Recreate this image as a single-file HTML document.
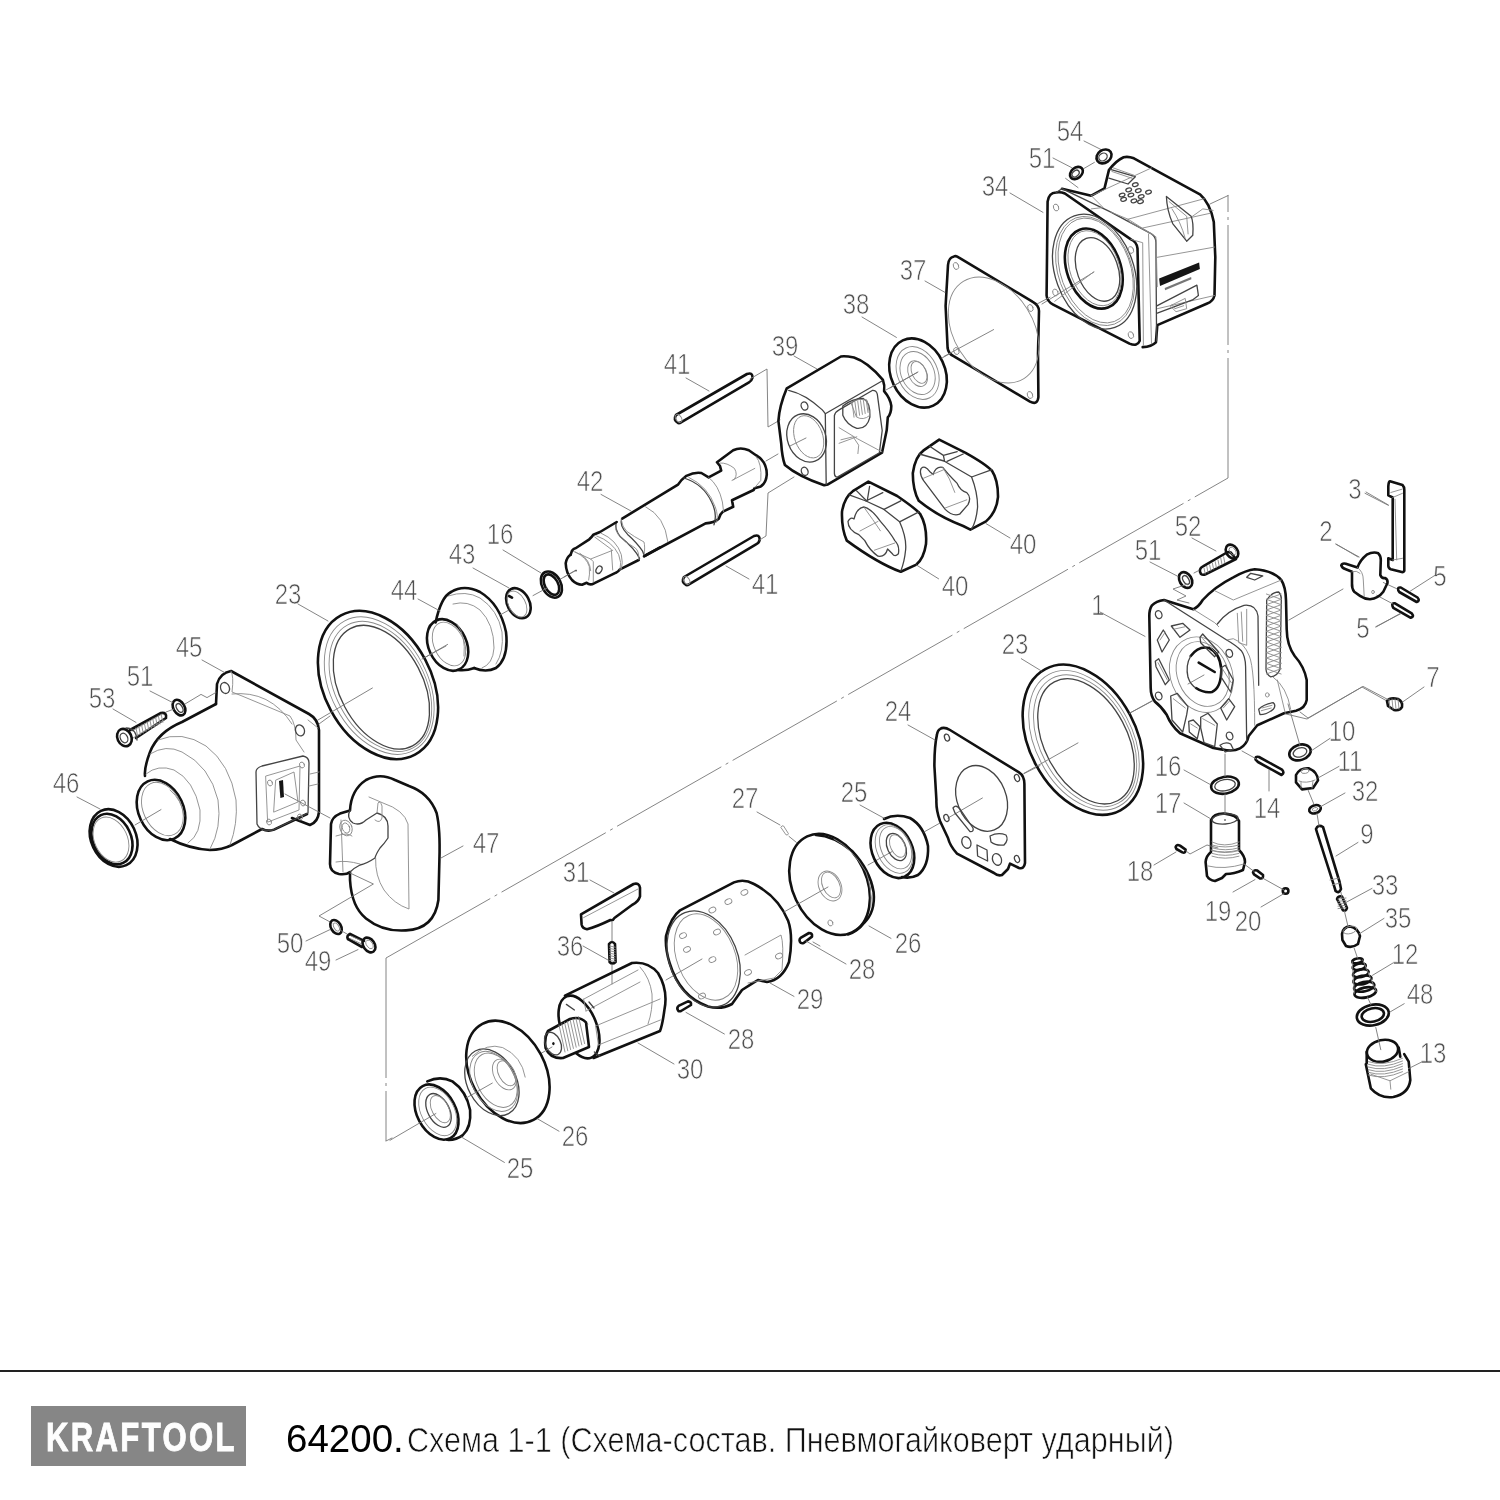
<!DOCTYPE html>
<html><head><meta charset="utf-8"><style>
html,body{margin:0;padding:0;background:#fff;width:1500px;height:1500px;overflow:hidden}
.wrap{position:absolute;left:0;top:0;width:1500px;height:1500px;filter:grayscale(1)}
svg{position:absolute;left:0;top:0}
.lb{font-family:"Liberation Sans",sans-serif;opacity:0.995;fill:#505050;stroke:#fff;stroke-width:0.7px;paint-order:normal}
.bar{position:absolute;left:0;top:1370px;width:1500px;height:1.5px;background:#222}
.logo{position:absolute;left:31px;top:1406px;width:215px;height:60px;background:#868589}
.lg{opacity:0.995;position:absolute;left:46px;top:1417px;font-family:"Liberation Sans",sans-serif;font-weight:bold;font-size:40px;color:#fff;letter-spacing:3px;line-height:40px;transform-origin:0 0;transform:scaleX(0.777);-webkit-text-stroke:0.9px #fff;white-space:nowrap}
.c1{opacity:0.995;position:absolute;left:286px;top:1417px;font-family:"Liberation Sans",sans-serif;font-size:38.5px;line-height:44px;color:#000;white-space:nowrap}
.c2{position:absolute;left:407px;top:1420px;font-family:"Liberation Sans",sans-serif;font-size:35px;line-height:40px;color:#111;white-space:nowrap;transform-origin:0 0;transform:scaleX(0.874);-webkit-text-stroke:0.7px #fff;opacity:0.995}
</style></head><body><div class="wrap">
<svg width="1500" height="1500" viewBox="0 0 1500 1500">
<text transform="translate(1070.0 140.7) scale(0.8 1)" text-anchor="middle" font-size="30" class="lb">54</text>
<text transform="translate(1042.0 167.7) scale(0.8 1)" text-anchor="middle" font-size="30" class="lb">51</text>
<text transform="translate(995.0 195.7) scale(0.8 1)" text-anchor="middle" font-size="30" class="lb">34</text>
<text transform="translate(913.0 279.6) scale(0.8 1)" text-anchor="middle" font-size="30" class="lb">37</text>
<text transform="translate(856.0 313.6) scale(0.8 1)" text-anchor="middle" font-size="30" class="lb">38</text>
<text transform="translate(785.0 355.6) scale(0.8 1)" text-anchor="middle" font-size="30" class="lb">39</text>
<text transform="translate(677.0 373.6) scale(0.8 1)" text-anchor="middle" font-size="30" class="lb">41</text>
<text transform="translate(590.0 490.6) scale(0.8 1)" text-anchor="middle" font-size="30" class="lb">42</text>
<text transform="translate(500.0 543.6) scale(0.8 1)" text-anchor="middle" font-size="30" class="lb">16</text>
<text transform="translate(462.0 563.6) scale(0.8 1)" text-anchor="middle" font-size="30" class="lb">43</text>
<text transform="translate(404.0 599.6) scale(0.8 1)" text-anchor="middle" font-size="30" class="lb">44</text>
<text transform="translate(288.0 603.6) scale(0.8 1)" text-anchor="middle" font-size="30" class="lb">23</text>
<text transform="translate(189.0 656.6) scale(0.8 1)" text-anchor="middle" font-size="30" class="lb">45</text>
<text transform="translate(140.0 685.6) scale(0.8 1)" text-anchor="middle" font-size="30" class="lb">51</text>
<text transform="translate(102.0 707.6) scale(0.8 1)" text-anchor="middle" font-size="30" class="lb">53</text>
<text transform="translate(66.0 792.6) scale(0.8 1)" text-anchor="middle" font-size="30" class="lb">46</text>
<text transform="translate(486.0 852.6) scale(0.8 1)" text-anchor="middle" font-size="30" class="lb">47</text>
<text transform="translate(290.0 952.6) scale(0.8 1)" text-anchor="middle" font-size="30" class="lb">50</text>
<text transform="translate(318.0 970.6) scale(0.8 1)" text-anchor="middle" font-size="30" class="lb">49</text>
<text transform="translate(765.0 593.6) scale(0.8 1)" text-anchor="middle" font-size="30" class="lb">41</text>
<text transform="translate(1023.0 553.6) scale(0.8 1)" text-anchor="middle" font-size="30" class="lb">40</text>
<text transform="translate(955.0 595.6) scale(0.8 1)" text-anchor="middle" font-size="30" class="lb">40</text>
<text transform="translate(1355.0 498.6) scale(0.8 1)" text-anchor="middle" font-size="30" class="lb">3</text>
<text transform="translate(1326.0 540.6) scale(0.8 1)" text-anchor="middle" font-size="30" class="lb">2</text>
<text transform="translate(1188.0 535.6) scale(0.8 1)" text-anchor="middle" font-size="30" class="lb">52</text>
<text transform="translate(1148.0 559.6) scale(0.8 1)" text-anchor="middle" font-size="30" class="lb">51</text>
<text transform="translate(1440.0 585.6) scale(0.8 1)" text-anchor="middle" font-size="30" class="lb">5</text>
<text transform="translate(1363.0 637.6) scale(0.8 1)" text-anchor="middle" font-size="30" class="lb">5</text>
<text transform="translate(1098.0 614.6) scale(0.8 1)" text-anchor="middle" font-size="30" class="lb">1</text>
<text transform="translate(1015.0 653.6) scale(0.8 1)" text-anchor="middle" font-size="30" class="lb">23</text>
<text transform="translate(898.0 720.6) scale(0.8 1)" text-anchor="middle" font-size="30" class="lb">24</text>
<text transform="translate(1433.0 686.6) scale(0.8 1)" text-anchor="middle" font-size="30" class="lb">7</text>
<text transform="translate(1342.0 740.6) scale(0.8 1)" text-anchor="middle" font-size="30" class="lb">10</text>
<text transform="translate(1350.0 770.6) scale(0.8 1)" text-anchor="middle" font-size="30" class="lb">11</text>
<text transform="translate(1168.0 775.6) scale(0.8 1)" text-anchor="middle" font-size="30" class="lb">16</text>
<text transform="translate(1267.0 817.6) scale(0.8 1)" text-anchor="middle" font-size="30" class="lb">14</text>
<text transform="translate(1365.0 800.6) scale(0.8 1)" text-anchor="middle" font-size="30" class="lb">32</text>
<text transform="translate(1168.0 812.6) scale(0.8 1)" text-anchor="middle" font-size="30" class="lb">17</text>
<text transform="translate(745.0 807.6) scale(0.8 1)" text-anchor="middle" font-size="30" class="lb">27</text>
<text transform="translate(854.0 801.6) scale(0.8 1)" text-anchor="middle" font-size="30" class="lb">25</text>
<text transform="translate(1367.0 843.6) scale(0.8 1)" text-anchor="middle" font-size="30" class="lb">9</text>
<text transform="translate(1140.0 880.6) scale(0.8 1)" text-anchor="middle" font-size="30" class="lb">18</text>
<text transform="translate(1385.0 894.6) scale(0.8 1)" text-anchor="middle" font-size="30" class="lb">33</text>
<text transform="translate(1218.0 920.6) scale(0.8 1)" text-anchor="middle" font-size="30" class="lb">19</text>
<text transform="translate(1248.0 930.6) scale(0.8 1)" text-anchor="middle" font-size="30" class="lb">20</text>
<text transform="translate(576.0 881.6) scale(0.8 1)" text-anchor="middle" font-size="30" class="lb">31</text>
<text transform="translate(908.0 952.6) scale(0.8 1)" text-anchor="middle" font-size="30" class="lb">26</text>
<text transform="translate(570.0 955.6) scale(0.8 1)" text-anchor="middle" font-size="30" class="lb">36</text>
<text transform="translate(1398.0 927.6) scale(0.8 1)" text-anchor="middle" font-size="30" class="lb">35</text>
<text transform="translate(862.0 978.6) scale(0.8 1)" text-anchor="middle" font-size="30" class="lb">28</text>
<text transform="translate(1405.0 963.6) scale(0.8 1)" text-anchor="middle" font-size="30" class="lb">12</text>
<text transform="translate(810.0 1008.6) scale(0.8 1)" text-anchor="middle" font-size="30" class="lb">29</text>
<text transform="translate(1420.0 1003.6) scale(0.8 1)" text-anchor="middle" font-size="30" class="lb">48</text>
<text transform="translate(741.0 1048.7) scale(0.8 1)" text-anchor="middle" font-size="30" class="lb">28</text>
<text transform="translate(1433.0 1062.7) scale(0.8 1)" text-anchor="middle" font-size="30" class="lb">13</text>
<text transform="translate(690.0 1078.7) scale(0.8 1)" text-anchor="middle" font-size="30" class="lb">30</text>
<text transform="translate(575.0 1145.7) scale(0.8 1)" text-anchor="middle" font-size="30" class="lb">26</text>
<text transform="translate(520.0 1177.7) scale(0.8 1)" text-anchor="middle" font-size="30" class="lb">25</text>
<path d="M 386.0 958.0 L 1228.0 478.0" stroke="#777" stroke-width="0.9" fill="none" stroke-dasharray="120 5 3 5" />
<path d="M 1228.0 478.0 L 1228.0 195.0" stroke="#777" stroke-width="0.9" fill="none" stroke-dasharray="120 5 3 5" />
<path d="M 386.0 958.0 L 386.0 1141.0" stroke="#777" stroke-width="0.9" fill="none" stroke-dasharray="120 5 3 5" />
<path d="M 386.0 1141.0 L 392.0 1138.0" stroke="#777" stroke-width="0.9" fill="none" stroke-linecap="round" />
<path d="M 1084.0 141.0 L 1102.0 150.0" stroke="#777" stroke-width="0.9" fill="none" stroke-linecap="round" />
<path d="M 1053.0 158.0 L 1071.6 167.6" stroke="#777" stroke-width="0.9" fill="none" stroke-linecap="round" />
<path d="M 1010.0 193.0 L 1043.0 212.4" stroke="#777" stroke-width="0.9" fill="none" stroke-linecap="round" />
<path d="M 1065.6 178.4 L 1078.0 187.6" stroke="#777" stroke-width="0.9" fill="none" stroke-linecap="round" />
<path d="M 1094.4 162.4 L 1082.0 169.6" stroke="#777" stroke-width="0.9" fill="none" stroke-linecap="round" />
<path d="M 1042.0 304.0 L 1094.0 272.0" stroke="#777" stroke-width="0.9" fill="none" stroke-linecap="round" />
<path d="M 1210.0 204.0 L 1228.0 195.6" stroke="#777" stroke-width="0.9" fill="none" stroke-linecap="round" />
<ellipse cx="1104.0" cy="156.4" rx="8.0" ry="6.4" transform="rotate(-35.0 1104.0 156.4)" stroke="#111" stroke-width="2.6" fill="none" stroke-linejoin="round" stroke-linecap="round"/>
<ellipse cx="1103.0" cy="157.0" rx="4.4" ry="3.6" transform="rotate(-35.0 1103.0 157.0)" stroke="#444" stroke-width="1.3" fill="none" stroke-linejoin="round" stroke-linecap="round"/>
<ellipse cx="1076.4" cy="173.0" rx="7.2" ry="5.2" transform="rotate(-40.0 1076.4 173.0)" stroke="#111" stroke-width="2.6" fill="none" stroke-linejoin="round" stroke-linecap="round"/>
<ellipse cx="1075.6" cy="173.6" rx="4.0" ry="2.8" transform="rotate(-40.0 1075.6 173.6)" stroke="#444" stroke-width="1.3" fill="none" stroke-linejoin="round" stroke-linecap="round"/>
<path d="M 1062.0 188.7 L 1091.3 195.7 L 1104.5 188.4 L 1108.9 170.1 Q 1116.3 160.5 1123.6 157.3 Q 1128.0 156.1 1133.9 158.3 L 1199.9 194.3 Q 1210.1 203.1 1213.8 222.1 L 1215.3 257.3 L 1214.5 295.5 Q 1213.1 301.3 1207.2 303.5 L 1157.3 325.1 L 1155.9 342.4 Q 1151.5 346.8 1142.7 347.1" stroke="#111" stroke-width="2.6" fill="none" stroke-linejoin="round" stroke-linecap="round" />
<path d="M 1056.1 192.5 Q 1048.8 192.8 1047.6 201.6 L 1046.6 295.5 Q 1047.0 301.3 1053.2 304.6 L 1129.5 343.6 Q 1137.5 346.8 1139.7 340.9 L 1137.5 248.5 Q 1136.8 241.9 1130.9 239.4 L 1064.9 193.5 Q 1060.5 191.6 1056.1 192.5 Z " stroke="#111" stroke-width="2.6" fill="none" stroke-linejoin="round" stroke-linecap="round" />
<path d="M 1062.0 188.7 L 1110.4 211.9 L 1151.5 233.9 Q 1155.9 236.8 1155.9 242.7 L 1156.6 340.9" stroke="#444" stroke-width="1.3" fill="none" stroke-linejoin="round" stroke-linecap="round" />
<path d="M 1130.9 239.4 L 1142.7 242.7 L 1143.4 345.3" stroke="#8a8a8a" stroke-width="0.9" fill="none" stroke-linejoin="round" stroke-linecap="round" />
<path d="M 1056.1 192.5 L 1062.0 188.7" stroke="#444" stroke-width="1.3" fill="none" stroke-linejoin="round" stroke-linecap="round" />
<path d="M 1110.4 211.9 L 1128.0 219.2 L 1151.5 233.9" stroke="#8a8a8a" stroke-width="0.9" fill="none" stroke-linejoin="round" stroke-linecap="round" />
<path d="M 1091.3 195.7 L 1103.1 207.5 L 1091.3 208.9" stroke="#8a8a8a" stroke-width="0.9" fill="none" stroke-linejoin="round" stroke-linecap="round" />
<ellipse cx="1094.6" cy="271.6" rx="39.2" ry="59.4" transform="rotate(-20.0 1094.6 271.6)" stroke="#444" stroke-width="1.3" fill="none" stroke-linejoin="round" stroke-linecap="round"/>
<ellipse cx="1095.1" cy="271.0" rx="36.7" ry="56.5" transform="rotate(-20.0 1095.1 271.0)" stroke="#8a8a8a" stroke-width="0.9" fill="none" stroke-linejoin="round" stroke-linecap="round"/>
<ellipse cx="1095.7" cy="270.5" rx="34.9" ry="54.3" transform="rotate(-20.0 1095.7 270.5)" stroke="#8a8a8a" stroke-width="0.9" fill="none" stroke-linejoin="round" stroke-linecap="round"/>
<ellipse cx="1093.8" cy="268.6" rx="26.8" ry="41.4" transform="rotate(-20.0 1093.8 268.6)" stroke="#111" stroke-width="2.6" fill="none" stroke-linejoin="round" stroke-linecap="round"/>
<ellipse cx="1094.6" cy="268.2" rx="24.6" ry="38.9" transform="rotate(-20.0 1094.6 268.2)" stroke="#8a8a8a" stroke-width="0.9" fill="none" stroke-linejoin="round" stroke-linecap="round"/>
<ellipse cx="1097.5" cy="269.4" rx="20.4" ry="33.0" transform="rotate(-20.0 1097.5 269.4)" stroke="#444" stroke-width="1.3" fill="none" stroke-linejoin="round" stroke-linecap="round"/>
<path d="M 1054.7 301.3 L 1093.5 272.0" stroke="#8a8a8a" stroke-width="0.9" fill="none" stroke-linejoin="round" stroke-linecap="round" />
<ellipse cx="1056.1" cy="207.5" rx="2.6" ry="3.5" transform="rotate(-20.0 1056.1 207.5)" stroke="#8a8a8a" stroke-width="0.9" fill="none" stroke-linejoin="round" stroke-linecap="round"/>
<ellipse cx="1130.9" cy="250.0" rx="2.6" ry="3.5" transform="rotate(-20.0 1130.9 250.0)" stroke="#8a8a8a" stroke-width="0.9" fill="none" stroke-linejoin="round" stroke-linecap="round"/>
<ellipse cx="1130.9" cy="335.1" rx="2.6" ry="3.5" transform="rotate(-20.0 1130.9 335.1)" stroke="#8a8a8a" stroke-width="0.9" fill="none" stroke-linejoin="round" stroke-linecap="round"/>
<ellipse cx="1055.4" cy="292.5" rx="2.6" ry="3.5" transform="rotate(-20.0 1055.4 292.5)" stroke="#8a8a8a" stroke-width="0.9" fill="none" stroke-linejoin="round" stroke-linecap="round"/>
<path d="M 1110.4 169.3 L 1135.3 176.7 L 1128.0 184.0 L 1108.9 178.1" stroke="#444" stroke-width="1.3" fill="none" stroke-linejoin="round" stroke-linecap="round" />
<path d="M 1113.3 167.9 L 1133.9 175.2 M 1111.9 171.5 L 1132.4 178.4" stroke="#8a8a8a" stroke-width="0.9" fill="none" stroke-linejoin="round" stroke-linecap="round" />
<ellipse cx="1122.1" cy="195.0" rx="2.9" ry="1.8" transform="rotate(-15.0 1122.1 195.0)" stroke="#444" stroke-width="1.3" fill="none" stroke-linejoin="round" stroke-linecap="round"/>
<ellipse cx="1128.7" cy="189.9" rx="2.9" ry="1.8" transform="rotate(-15.0 1128.7 189.9)" stroke="#444" stroke-width="1.3" fill="none" stroke-linejoin="round" stroke-linecap="round"/>
<ellipse cx="1135.3" cy="184.7" rx="2.9" ry="1.8" transform="rotate(-15.0 1135.3 184.7)" stroke="#444" stroke-width="1.3" fill="none" stroke-linejoin="round" stroke-linecap="round"/>
<ellipse cx="1123.6" cy="199.4" rx="2.9" ry="1.8" transform="rotate(-15.0 1123.6 199.4)" stroke="#444" stroke-width="1.3" fill="none" stroke-linejoin="round" stroke-linecap="round"/>
<ellipse cx="1130.9" cy="195.0" rx="2.9" ry="1.8" transform="rotate(-15.0 1130.9 195.0)" stroke="#444" stroke-width="1.3" fill="none" stroke-linejoin="round" stroke-linecap="round"/>
<ellipse cx="1138.3" cy="190.6" rx="2.9" ry="1.8" transform="rotate(-15.0 1138.3 190.6)" stroke="#444" stroke-width="1.3" fill="none" stroke-linejoin="round" stroke-linecap="round"/>
<ellipse cx="1133.9" cy="200.9" rx="2.9" ry="1.8" transform="rotate(-15.0 1133.9 200.9)" stroke="#444" stroke-width="1.3" fill="none" stroke-linejoin="round" stroke-linecap="round"/>
<ellipse cx="1141.2" cy="196.5" rx="2.9" ry="1.8" transform="rotate(-15.0 1141.2 196.5)" stroke="#444" stroke-width="1.3" fill="none" stroke-linejoin="round" stroke-linecap="round"/>
<ellipse cx="1148.5" cy="192.1" rx="2.9" ry="1.8" transform="rotate(-15.0 1148.5 192.1)" stroke="#444" stroke-width="1.3" fill="none" stroke-linejoin="round" stroke-linecap="round"/>
<ellipse cx="1140.5" cy="201.6" rx="2.9" ry="1.8" transform="rotate(-15.0 1140.5 201.6)" stroke="#444" stroke-width="1.3" fill="none" stroke-linejoin="round" stroke-linecap="round"/>
<path d="M 1091.3 195.7 L 1151.5 167.9" stroke="#8a8a8a" stroke-width="0.9" fill="none" stroke-linejoin="round" stroke-linecap="round" />
<path d="M 1128.0 219.2 L 1204.3 198.7" stroke="#8a8a8a" stroke-width="0.9" fill="none" stroke-linejoin="round" stroke-linecap="round" />
<path d="M 1142.7 228.0 L 1210.1 213.3" stroke="#8a8a8a" stroke-width="0.9" fill="none" stroke-linejoin="round" stroke-linecap="round" />
<path d="M 1157.3 257.3 L 1214.5 247.1" stroke="#8a8a8a" stroke-width="0.9" fill="none" stroke-linejoin="round" stroke-linecap="round" />
<path d="M 1157.3 308.7 L 1214.5 295.5" stroke="#8a8a8a" stroke-width="0.9" fill="none" stroke-linejoin="round" stroke-linecap="round" />
<path d="M 1148.5 233.9 L 1151.5 343.9" stroke="#8a8a8a" stroke-width="0.9" fill="none" stroke-linejoin="round" stroke-linecap="round" />
<path d="M 1166.4 196.5 L 1191.1 216.3 Q 1193.7 222.1 1192.8 235.3 L 1186.7 241.2 L 1172.7 223.6 Q 1166.9 210.4 1166.4 196.5 Z " stroke="#444" stroke-width="1.3" fill="none" stroke-linejoin="round" stroke-linecap="round" />
<path d="M 1169.1 201.6 L 1186.7 216.3 L 1188.1 233.9 M 1172.0 208.9 Q 1180.8 222.1 1185.2 238.3" stroke="#8a8a8a" stroke-width="0.9" fill="none" stroke-linejoin="round" stroke-linecap="round" />
<path d="M 1192.5 216.3 L 1202.8 208.9 L 1213.1 210.4" stroke="#8a8a8a" stroke-width="0.9" fill="none" stroke-linejoin="round" stroke-linecap="round" />
<path d="M 1159.1 278.6 L 1199.1 262.5 L 1199.9 269.1 L 1160.0 285.9 Z " stroke="none" fill="#151515" />
<path d="M 1164.7 288.1 L 1191.1 277.1 L 1191.4 279.3 L 1165.1 290.3 Z " stroke="none" fill="#777" />
<path d="M 1157.3 305.7 L 1196.9 285.2 L 1198.4 295.5 L 1192.5 299.9 L 1157.3 313.1" stroke="#444" stroke-width="1.3" fill="none" stroke-linejoin="round" stroke-linecap="round" />
<path d="M 1170.5 305.7 L 1185.2 298.4 L 1186.7 308.7 L 1176.4 311.6 Z " stroke="#8a8a8a" stroke-width="0.9" fill="none" stroke-linejoin="round" stroke-linecap="round" />
<path d="M 1172.0 304.3 L 1174.9 308.7 L 1183.7 305.7" stroke="#8a8a8a" stroke-width="0.9" fill="none" stroke-linejoin="round" stroke-linecap="round" />
<path d="M 1151.5 233.9 L 1155.9 236.8 L 1157.3 286.7" stroke="#8a8a8a" stroke-width="0.9" fill="none" stroke-linejoin="round" stroke-linecap="round" />
<path d="M 1128.0 219.9 L 1129.5 222.1 L 1151.5 233.9" stroke="#8a8a8a" stroke-width="0.9" fill="none" stroke-linejoin="round" stroke-linecap="round" />
<path d="M 954.0 256.4 Q 948.4 257.6 948.0 265.0 L 945.6 306.0 L 947.6 348.0 Q 948.4 354.0 954.0 356.4 L 1030.0 401.6 Q 1037.6 405.6 1038.4 397.0 L 1038.0 354.0 L 1039.0 311.0 Q 1038.8 305.0 1032.4 301.6 L 959.0 257.6 Q 956.0 255.6 954.0 256.4 Z " stroke="#111" stroke-width="2.6" fill="none" stroke-linejoin="round" stroke-linecap="round" />
<ellipse cx="993.6" cy="330.0" rx="39.6" ry="57.2" transform="rotate(-32.0 993.6 330.0)" stroke="#8a8a8a" stroke-width="0.9" fill="none" stroke-linejoin="round" stroke-linecap="round"/>
<ellipse cx="956.0" cy="266.0" rx="2.6" ry="3.6" transform="rotate(-20.0 956.0 266.0)" stroke="#8a8a8a" stroke-width="0.9" fill="none" stroke-linejoin="round" stroke-linecap="round"/>
<ellipse cx="1030.4" cy="308.0" rx="2.6" ry="3.6" transform="rotate(-20.0 1030.4 308.0)" stroke="#8a8a8a" stroke-width="0.9" fill="none" stroke-linejoin="round" stroke-linecap="round"/>
<ellipse cx="1030.0" cy="395.0" rx="2.6" ry="3.6" transform="rotate(-20.0 1030.0 395.0)" stroke="#8a8a8a" stroke-width="0.9" fill="none" stroke-linejoin="round" stroke-linecap="round"/>
<ellipse cx="956.4" cy="351.0" rx="2.6" ry="3.6" transform="rotate(-20.0 956.4 351.0)" stroke="#8a8a8a" stroke-width="0.9" fill="none" stroke-linejoin="round" stroke-linecap="round"/>
<path d="M 925.0 281.0 L 945.0 292.4" stroke="#777" stroke-width="0.9" fill="none" stroke-linecap="round" />
<path d="M 944.0 356.4 L 993.6 329.6" stroke="#777" stroke-width="0.9" fill="none" stroke-linecap="round" />
<path d="M 1037.0 304.0 L 1050.0 297.2" stroke="#777" stroke-width="0.9" fill="none" stroke-linecap="round" />
<ellipse cx="918.0" cy="373.0" rx="27.0" ry="36.0" transform="rotate(-25.0 918.0 373.0)" stroke="#111" stroke-width="2.6" fill="none" stroke-linejoin="round" stroke-linecap="round"/>
<ellipse cx="917.6" cy="373.0" rx="20.0" ry="27.6" transform="rotate(-25.0 917.6 373.0)" stroke="#8a8a8a" stroke-width="0.9" fill="none" stroke-linejoin="round" stroke-linecap="round"/>
<ellipse cx="917.6" cy="373.0" rx="16.4" ry="22.4" transform="rotate(-25.0 917.6 373.0)" stroke="#8a8a8a" stroke-width="0.9" fill="none" stroke-linejoin="round" stroke-linecap="round"/>
<ellipse cx="917.6" cy="373.6" rx="9.0" ry="13.6" transform="rotate(-25.0 917.6 373.6)" stroke="#8a8a8a" stroke-width="0.9" fill="none" stroke-linejoin="round" stroke-linecap="round"/>
<ellipse cx="919.0" cy="372.4" rx="7.0" ry="11.6" transform="rotate(-25.0 919.0 372.4)" stroke="#8a8a8a" stroke-width="0.9" fill="none" stroke-linejoin="round" stroke-linecap="round"/>
<path d="M 862.0 317.0 L 896.4 337.4" stroke="#777" stroke-width="0.9" fill="none" stroke-linecap="round" />
<path d="M 886.0 390.0 L 917.2 372.4" stroke="#777" stroke-width="0.9" fill="none" stroke-linecap="round" />
<path d="M 942.0 358.0 L 950.0 353.6" stroke="#777" stroke-width="0.9" fill="none" stroke-linecap="round" />
<path d="M 678.0 423.0 Q 673.0 420.0 676.0 415.0 L 747.0 374.0 Q 753.0 372.0 752.4 378.0 Q 751.6 381.0 749.0 382.4 L 681.0 422.4 Q 679.6 423.4 678.0 423.0 Z " stroke="#111" stroke-width="2.6" fill="none" stroke-linejoin="round" stroke-linecap="round" />
<ellipse cx="678.6" cy="418.4" rx="2.8" ry="4.4" transform="rotate(-30.0 678.6 418.4)" stroke="#8a8a8a" stroke-width="0.9" fill="none" stroke-linejoin="round" stroke-linecap="round"/>
<path d="M 686.0 378.0 L 709.0 391.0" stroke="#777" stroke-width="0.9" fill="none" stroke-linecap="round" />
<path d="M 686.0 585.0 Q 681.0 582.0 684.0 577.0 L 754.0 536.0 Q 760.0 534.0 759.6 540.0 Q 759.0 543.0 756.0 544.4 L 689.0 584.4 Q 687.6 585.4 686.0 585.0 Z " stroke="#111" stroke-width="2.6" fill="none" stroke-linejoin="round" stroke-linecap="round" />
<ellipse cx="686.6" cy="580.4" rx="2.8" ry="4.4" transform="rotate(-30.0 686.6 580.4)" stroke="#8a8a8a" stroke-width="0.9" fill="none" stroke-linejoin="round" stroke-linecap="round"/>
<path d="M 726.0 566.0 L 749.0 579.0" stroke="#777" stroke-width="0.9" fill="none" stroke-linecap="round" />
<path d="M 750.0 379.0 L 767.0 369.0 L 768.0 427.0 L 780.0 420.0" stroke="#777" stroke-width="0.9" fill="none" stroke-linecap="round" />
<path d="M 794.0 477.0 L 768.0 493.0 L 766.0 536.0 L 759.6 540.0" stroke="#777" stroke-width="0.9" fill="none" stroke-linecap="round" />
<path d="M 766.0 461.0 L 778.0 454.0" stroke="#777" stroke-width="0.9" fill="none" stroke-linecap="round" />
<path d="M 790.0 446.0 L 806.0 438.0" stroke="#777" stroke-width="0.9" fill="none" stroke-linecap="round" />
<path d="M 890.0 388.0 L 918.0 372.0" stroke="#777" stroke-width="0.9" fill="none" stroke-linecap="round" />
<path d="M 794.0 356.0 L 817.0 369.0" stroke="#777" stroke-width="0.9" fill="none" stroke-linecap="round" />
<path d="M 786.8 388.3 L 840.9 356.5 Q 844.7 355.6 854.0 357.5 Q 868.0 362.1 882.9 379.9 Q 885.0 385.5 884.1 391.1 Q 890.4 398.5 891.3 406.0 Q 891.3 413.5 887.8 417.4 L 886.7 430.3 L 882.0 452.7 L 827.9 484.4 L 824.1 485.3 Q 798.0 476.2 784.9 465.0 Q 782.1 457.3 781.2 443.3 L 778.4 420.9 Q 779.3 406.0 786.8 388.3 Z " stroke="#111" stroke-width="2.6" fill="none" stroke-linejoin="round" stroke-linecap="round" />
<path d="M 788.7 390.3 Q 805.5 394.1 822.3 409.9 L 825.3 413.7 L 826.2 484.4" stroke="#444" stroke-width="1.3" fill="none" stroke-linejoin="round" stroke-linecap="round" />
<path d="M 825.3 413.7 L 882.0 381.0" stroke="#444" stroke-width="1.3" fill="none" stroke-linejoin="round" stroke-linecap="round" />
<ellipse cx="806.6" cy="437.9" rx="19.1" ry="24.7" transform="rotate(-20.0 806.6 437.9)" stroke="#444" stroke-width="1.3" fill="none" stroke-linejoin="round" stroke-linecap="round"/>
<ellipse cx="808.7" cy="436.8" rx="14.0" ry="21.9" transform="rotate(-20.0 808.7 436.8)" stroke="#8a8a8a" stroke-width="0.9" fill="none" stroke-linejoin="round" stroke-linecap="round"/>
<ellipse cx="804.5" cy="406.0" rx="3.3" ry="4.2" transform="rotate(-20.0 804.5 406.0)" stroke="#444" stroke-width="1.3" fill="none" stroke-linejoin="round" stroke-linecap="round"/>
<ellipse cx="804.7" cy="471.3" rx="3.3" ry="4.2" transform="rotate(-20.0 804.7 471.3)" stroke="#444" stroke-width="1.3" fill="none" stroke-linejoin="round" stroke-linecap="round"/>
<path d="M 834.4 415.5 Q 835.3 411.8 839.1 409.9 L 872.7 390.3 Q 876.4 390.3 877.3 394.1 L 882.2 430.5 L 879.4 452.7 L 837.4 477.1 Q 834.6 477.1 834.4 473.4 Z " stroke="#444" stroke-width="1.3" fill="none" stroke-linejoin="round" stroke-linecap="round" />
<path d="M 839.1 427.7 L 857.7 438.9 L 882.0 451.9 M 840.9 439.8 L 853.1 436.8 L 858.7 445.2 L 857.9 453.6 M 839.1 443.3 L 856.8 436.8" stroke="#8a8a8a" stroke-width="0.9" fill="none" stroke-linejoin="round" stroke-linecap="round" />
<path d="M 842.8 406.0 Q 852.1 398.5 863.3 398.5 Q 870.8 402.3 869.9 417.2 Q 867.1 429.3 856.8 428.4 Q 846.5 424.7 842.8 415.3 Z " stroke="#444" stroke-width="1.3" fill="none" stroke-linejoin="round" stroke-linecap="round" />
<path d="M 851.2 402.3 Q 859.6 397.6 867.1 400.4 L 869.9 415.3 Q 863.3 420.9 856.8 417.2 Z " stroke="#8a8a8a" stroke-width="0.9" fill="none" stroke-linejoin="round" stroke-linecap="round" />
<path d="M 852.1 402.3 L 854.0 417.2" stroke="#8a8a8a" stroke-width="0.9" fill="none" stroke-linejoin="round" stroke-linecap="round" />
<path d="M 854.9 401.7 L 856.8 416.3" stroke="#8a8a8a" stroke-width="0.9" fill="none" stroke-linejoin="round" stroke-linecap="round" />
<path d="M 857.7 401.1 L 859.6 415.3" stroke="#8a8a8a" stroke-width="0.9" fill="none" stroke-linejoin="round" stroke-linecap="round" />
<path d="M 860.5 400.6 L 862.4 414.4" stroke="#8a8a8a" stroke-width="0.9" fill="none" stroke-linejoin="round" stroke-linecap="round" />
<path d="M 863.3 400.0 L 865.2 413.5" stroke="#8a8a8a" stroke-width="0.9" fill="none" stroke-linejoin="round" stroke-linecap="round" />
<path d="M 866.1 399.5 L 868.0 412.5" stroke="#8a8a8a" stroke-width="0.9" fill="none" stroke-linejoin="round" stroke-linecap="round" />
<path d="M 939.2 439.6 L 965.6 452.8 Q 986.0 464.2 992.0 470.8 Q 998.2 480.4 998.0 497.2 Q 996.8 511.6 986.0 521.4 L 970.4 529.6 L 963.2 526.0 Q 938.0 516.4 918.8 500.8 Q 912.8 490.0 912.8 473.2 Q 915.2 456.4 923.6 450.4 Z " stroke="#111" stroke-width="2.6" fill="none" stroke-linejoin="round" stroke-linecap="round" />
<path d="M 919.4 454.0 L 944.0 461.0 L 971.6 477.0 L 992.0 469.6" stroke="#444" stroke-width="1.3" fill="none" stroke-linejoin="round" stroke-linecap="round" />
<path d="M 929.6 446.2 L 943.4 455.4 L 944.6 461.4 M 943.4 455.4 L 957.2 451.6 M 947.0 461.4 L 963.2 454.0 M 971.6 477.0 Q 977.6 492.4 977.6 506.8 Q 976.4 521.2 971.6 529.0" stroke="#444" stroke-width="1.3" fill="none" stroke-linejoin="round" stroke-linecap="round" />
<path d="M 921.2 468.4 Q 924.8 464.8 929.6 471.4 L 933.2 474.6 Q 935.6 466.0 942.8 467.4 Q 947.0 473.2 957.2 483.4 Q 960.2 490.6 966.8 492.6 Q 971.8 497.4 968.0 504.6 L 959.6 514.2 Q 952.4 516.6 945.2 509.4 L 923.6 480.6 Q 918.8 473.2 921.2 468.4 Z " stroke="#444" stroke-width="1.3" fill="none" stroke-linejoin="round" stroke-linecap="round" />
<path d="M 923.6 478.2 L 944.0 469.6 M 945.2 508.0 L 966.8 499.8 M 942.8 467.4 Q 950.0 478.0 954.8 492.4" stroke="#8a8a8a" stroke-width="0.9" fill="none" stroke-linejoin="round" stroke-linecap="round" />
<path d="M 868.4 481.6 L 897.2 496.0 Q 916.4 509.2 920.2 514.0 Q 927.2 526.0 926.0 544.0 Q 923.8 558.4 916.4 564.6 L 900.8 571.8 Q 878.0 563.4 846.8 540.6 Q 841.4 528.4 842.0 511.6 Q 844.4 497.2 852.8 491.2 Z " stroke="#111" stroke-width="2.6" fill="none" stroke-linejoin="round" stroke-linecap="round" />
<path d="M 849.2 494.8 L 866.0 501.0 L 884.0 509.4 L 899.6 521.8 L 919.4 511.6" stroke="#444" stroke-width="1.3" fill="none" stroke-linejoin="round" stroke-linecap="round" />
<path d="M 856.4 490.6 L 866.0 500.2 M 869.6 486.4 L 867.2 501.0 M 866.0 501.0 L 882.8 492.6 M 884.0 509.4 L 900.8 500.8 M 899.6 521.8 Q 906.8 538.0 905.6 550.0 Q 904.4 562.0 900.8 571.0" stroke="#444" stroke-width="1.3" fill="none" stroke-linejoin="round" stroke-linecap="round" />
<path d="M 848.0 521.4 Q 850.4 516.6 854.0 519.0 Q 856.6 508.2 863.8 507.0 Q 871.0 508.2 880.4 521.4 Q 890.0 532.2 894.8 540.6 Q 899.8 545.4 898.4 553.8 Q 894.8 557.4 892.4 553.8 L 887.6 549.0 Q 885.2 557.4 878.0 556.2 Q 869.6 550.2 864.8 540.6 L 858.8 534.6 Q 848.0 529.8 848.0 521.4 Z " stroke="#444" stroke-width="1.3" fill="none" stroke-linejoin="round" stroke-linecap="round" />
<path d="M 860.0 531.0 L 878.0 521.4 M 874.4 550.2 L 894.8 543.0 M 863.8 507.0 Q 873.2 520.0 880.4 530.8" stroke="#8a8a8a" stroke-width="0.9" fill="none" stroke-linejoin="round" stroke-linecap="round" />
<path d="M 986.0 523.6 L 1010.0 538.0" stroke="#777" stroke-width="0.9" fill="none" stroke-linecap="round" />
<path d="M 916.4 565.0 L 938.6 578.8" stroke="#777" stroke-width="0.9" fill="none" stroke-linecap="round" />
<ellipse cx="551.4" cy="584.6" rx="9.4" ry="14.0" transform="rotate(-28.0 551.4 584.6)" stroke="#111" stroke-width="2.6" fill="none" stroke-linejoin="round" stroke-linecap="round"/>
<ellipse cx="551.4" cy="584.6" rx="6.6" ry="11.0" transform="rotate(-28.0 551.4 584.6)" stroke="#111" stroke-width="2.6" fill="none" stroke-linejoin="round" stroke-linecap="round"/>
<path d="M 503.0 550.0 L 541.0 573.0" stroke="#777" stroke-width="0.9" fill="none" stroke-linecap="round" />
<ellipse cx="518.4" cy="603.2" rx="11.0" ry="16.0" transform="rotate(-28.0 518.4 603.2)" stroke="#111" stroke-width="2.6" fill="none" stroke-linejoin="round" stroke-linecap="round"/>
<ellipse cx="517.0" cy="604.0" rx="8.4" ry="14.0" transform="rotate(-28.0 517.0 604.0)" stroke="#8a8a8a" stroke-width="0.9" fill="none" stroke-linejoin="round" stroke-linecap="round"/>
<path d="M 509.0 596.0 L 512.0 597.6" stroke="#111" stroke-width="2.6" fill="none" stroke-linejoin="round" stroke-linecap="round" />
<path d="M 473.0 568.0 L 509.0 588.0" stroke="#777" stroke-width="0.9" fill="none" stroke-linecap="round" />
<path d="M 451.0 592.0 Q 464.0 584.0 480.0 592.0 Q 500.0 604.0 506.0 632.0 Q 509.0 658.0 496.0 668.0 Q 486.0 673.0 474.0 668.0" stroke="#111" stroke-width="2.6" fill="none" stroke-linejoin="round" stroke-linecap="round" />
<path d="M 448.0 596.0 Q 466.0 590.0 480.0 598.0 Q 498.0 610.0 502.0 632.0 Q 504.0 652.0 496.0 664.0" stroke="#8a8a8a" stroke-width="0.9" fill="none" stroke-linejoin="round" stroke-linecap="round" />
<path d="M 451.0 592.0 Q 441.0 597.0 435.6 622.4" stroke="#111" stroke-width="2.6" fill="none" stroke-linejoin="round" stroke-linecap="round" />
<path d="M 458.0 670.0 Q 466.0 671.0 474.4 668.0" stroke="#111" stroke-width="2.6" fill="none" stroke-linejoin="round" stroke-linecap="round" />
<path d="M 453.0 604.0 Q 468.0 600.0 480.0 610.0 Q 494.0 624.0 494.0 648.0 Q 493.0 664.0 482.0 668.0" stroke="#8a8a8a" stroke-width="0.9" fill="none" stroke-linejoin="round" stroke-linecap="round" />
<ellipse cx="447.6" cy="645.0" rx="19.0" ry="27.0" transform="rotate(-25.0 447.6 645.0)" stroke="#111" stroke-width="2.6" fill="none" stroke-linejoin="round" stroke-linecap="round"/>
<ellipse cx="449.0" cy="644.0" rx="15.0" ry="23.0" transform="rotate(-25.0 449.0 644.0)" stroke="#8a8a8a" stroke-width="0.9" fill="none" stroke-linejoin="round" stroke-linecap="round"/>
<path d="M 457.0 624.0 Q 466.0 636.0 464.0 656.0" stroke="#8a8a8a" stroke-width="0.9" fill="none" stroke-linejoin="round" stroke-linecap="round" />
<path d="M 418.0 599.0 L 440.0 611.0" stroke="#777" stroke-width="0.9" fill="none" stroke-linecap="round" />
<path d="M 424.0 658.0 L 447.6 644.4" stroke="#777" stroke-width="0.9" fill="none" stroke-linecap="round" />
<path d="M 500.0 615.0 L 509.0 610.0" stroke="#777" stroke-width="0.9" fill="none" stroke-linecap="round" />
<path d="M 533.0 595.6 L 547.0 588.0" stroke="#777" stroke-width="0.9" fill="none" stroke-linecap="round" />
<path d="M 564.0 577.0 L 576.0 570.0" stroke="#777" stroke-width="0.9" fill="none" stroke-linecap="round" />
<path d="M 601.0 494.4 L 631.0 511.0" stroke="#777" stroke-width="0.9" fill="none" stroke-linecap="round" />
<path d="M 622.2 518.6 L 678.0 484.6 Q 680.6 480.2 686.4 475.8 Q 694.8 471.8 701.4 473.0 L 708.6 477.4 L 721.2 470.6 L 720.0 466.0 L 717.0 462.2 L 733.2 450.2 Q 740.4 446.8 748.8 450.2 L 756.0 455.2 Q 766.8 461.4 766.8 474.4 Q 766.2 482.8 760.8 486.4 L 754.6 488.2 L 753.6 490.0 L 732.0 500.2 L 733.2 506.8 L 723.0 511.6 Q 720.0 514.0 718.8 518.8 Q 714.0 523.0 705.6 523.4 L 644.4 556.0" stroke="#111" stroke-width="2.6" fill="none" stroke-linejoin="round" stroke-linecap="round" />
<path d="M 621.6 518.8 Q 619.2 526.0 627.6 534.4 Q 637.2 542.8 642.6 551.2 L 644.4 556.0" stroke="#444" stroke-width="1.3" fill="none" stroke-linejoin="round" stroke-linecap="round" />
<path d="M 616.2 522.4 Q 614.4 529.6 620.4 536.8 Q 634.8 548.8 639.6 558.4" stroke="#444" stroke-width="1.3" fill="none" stroke-linejoin="round" stroke-linecap="round" />
<path d="M 645.6 506.8 Q 664.8 516.4 667.8 541.6" stroke="#8a8a8a" stroke-width="0.9" fill="none" stroke-linejoin="round" stroke-linecap="round" />
<path d="M 684.0 478.0 Q 703.2 484.0 711.6 502.0 Q 717.6 514.0 714.0 524.8" stroke="#444" stroke-width="1.3" fill="none" stroke-linejoin="round" stroke-linecap="round" />
<path d="M 688.8 477.4 Q 708.0 486.4 715.2 506.8 Q 718.8 516.4 716.4 522.4" stroke="#8a8a8a" stroke-width="0.9" fill="none" stroke-linejoin="round" stroke-linecap="round" />
<path d="M 708.6 477.4 Q 718.8 485.2 722.4 502.0 L 723.6 511.6" stroke="#8a8a8a" stroke-width="0.9" fill="none" stroke-linejoin="round" stroke-linecap="round" />
<path d="M 720.0 463.0 Q 727.2 462.6 734.4 468.4 Q 738.0 474.4 734.4 479.2 L 732.0 480.4" stroke="#8a8a8a" stroke-width="0.9" fill="none" stroke-linejoin="round" stroke-linecap="round" />
<path d="M 733.2 479.8 L 754.8 468.4 M 756.0 456.4 Q 762.0 463.6 760.8 480.4 L 754.8 487.6" stroke="#8a8a8a" stroke-width="0.9" fill="none" stroke-linejoin="round" stroke-linecap="round" />
<path d="M 570.7 554.7 Q 566.7 557.3 565.7 563.3 Q 566.0 573.3 572.0 580.0 Q 576.7 584.7 582.0 584.7 L 586.7 582.7 L 588.7 584.1 Q 591.3 585.0 594.0 583.3 L 616.0 572.7 Q 618.0 572.0 620.0 569.3 L 638.7 560.0" stroke="#111" stroke-width="2.6" fill="none" stroke-linejoin="round" stroke-linecap="round" />
<path d="M 570.7 554.7 L 572.0 550.7 Q 573.3 548.7 576.0 548.0 L 589.3 539.3 Q 592.0 536.7 593.3 534.7 L 600.0 532.0 L 616.7 522.0" stroke="#111" stroke-width="2.6" fill="none" stroke-linejoin="round" stroke-linecap="round" />
<path d="M 616.0 525.3 Q 614.7 530.0 618.7 535.3 Q 624.0 542.0 635.3 548.0 Q 639.3 551.3 638.7 559.3" stroke="#8a8a8a" stroke-width="0.9" fill="none" stroke-linejoin="round" stroke-linecap="round" />
<path d="M 621.3 520.0 Q 622.0 526.7 626.7 531.3 Q 634.0 536.7 644.0 542.0 Q 645.3 546.7 644.0 556.0" stroke="#8a8a8a" stroke-width="0.9" fill="none" stroke-linejoin="round" stroke-linecap="round" />
<path d="M 644.0 556.3 L 660.0 547.3" stroke="#111" stroke-width="2.6" fill="none" stroke-linejoin="round" stroke-linecap="round" />
<path d="M 573.3 551.3 L 590.7 559.0 L 593.3 561.7 L 593.3 582.0 M 590.7 559.0 L 612.7 550.3 M 594.7 537.0 L 611.3 549.3 L 612.7 570.0" stroke="#8a8a8a" stroke-width="0.9" fill="none" stroke-linejoin="round" stroke-linecap="round" />
<path d="M 596.7 536.0 Q 612.0 541.3 618.7 554.7 Q 622.0 562.7 620.0 570.0" stroke="#8a8a8a" stroke-width="0.9" fill="none" stroke-linejoin="round" stroke-linecap="round" />
<path d="M 601.3 533.3 Q 616.7 540.0 621.3 554.7 Q 623.3 562.7 621.3 569.3" stroke="#8a8a8a" stroke-width="0.9" fill="none" stroke-linejoin="round" stroke-linecap="round" />
<path d="M 575.3 552.0 Q 586.7 557.3 589.3 566.7 Q 590.0 574.7 588.7 580.0 M 580.0 553.3 Q 590.0 560.0 590.7 570.7" stroke="#8a8a8a" stroke-width="0.9" fill="none" stroke-linejoin="round" stroke-linecap="round" />
<ellipse cx="599.0" cy="569.7" rx="2.7" ry="3.9" transform="rotate(30.0 599.0 569.7)" stroke="#444" stroke-width="1.3" fill="none" stroke-linejoin="round" stroke-linecap="round"/>
<ellipse cx="576.0" cy="570.7" rx="0.8" ry="0.8" transform="rotate(0.0 576.0 570.7)" stroke="none" fill="#151515"/>
<path d="M 560.0 579.3 L 575.3 570.8" stroke="#777" stroke-width="0.9" fill="none" stroke-linecap="round" />
<path d="M 216.0 704.0 L 217.0 684.0 Q 220.0 673.0 231.0 671.0 L 309.0 714.0 Q 318.0 719.0 319.0 730.0 L 319.0 812.0 Q 318.0 822.0 310.0 825.0 L 292.0 818.0" stroke="#111" stroke-width="2.6" fill="none" stroke-linejoin="round" stroke-linecap="round" />
<path d="M 216.0 704.0 L 182.0 722.0 Q 158.0 732.0 150.0 752.0 Q 144.0 768.0 145.0 776.0" stroke="#111" stroke-width="2.6" fill="none" stroke-linejoin="round" stroke-linecap="round" />
<path d="M 170.0 839.0 Q 190.0 849.0 210.0 850.0 Q 222.0 850.0 232.0 845.0 L 262.0 829.0 Q 268.0 832.0 274.0 829.6 L 307.0 814.0" stroke="#111" stroke-width="2.6" fill="none" stroke-linejoin="round" stroke-linecap="round" />
<path d="M 256.0 772.0 Q 256.0 768.0 262.0 766.0 L 303.0 756.0 Q 309.0 757.0 309.0 763.0 L 308.0 813.0 L 273.0 830.0 Q 260.0 832.0 257.0 824.0 Z " stroke="#444" stroke-width="1.3" fill="none" stroke-linejoin="round" stroke-linecap="round" />
<path d="M 266.0 776.0 L 300.0 766.0 L 299.0 810.0 L 268.0 822.0 Z " stroke="#8a8a8a" stroke-width="0.9" fill="none" stroke-linejoin="round" stroke-linecap="round" />
<path d="M 276.0 780.0 L 294.0 772.0 L 298.0 802.0 L 274.0 812.0 Z " stroke="#8a8a8a" stroke-width="0.9" fill="none" stroke-linejoin="round" stroke-linecap="round" />
<path d="M 231.0 671.0 Q 234.0 676.0 232.0 692.0 L 242.0 696.0 L 290.0 716.0 Q 296.0 724.0 296.0 740.0 L 304.0 752.0" stroke="#8a8a8a" stroke-width="0.9" fill="none" stroke-linejoin="round" stroke-linecap="round" />
<path d="M 232.0 694.0 Q 270.0 690.0 292.0 724.0" stroke="#8a8a8a" stroke-width="0.9" fill="none" stroke-linejoin="round" stroke-linecap="round" />
<path d="M 308.0 720.0 L 318.0 728.0 M 310.0 774.0 L 319.0 772.0 M 309.0 786.0 L 318.0 784.0" stroke="#8a8a8a" stroke-width="0.9" fill="none" stroke-linejoin="round" stroke-linecap="round" />
<ellipse cx="161.0" cy="810.0" rx="22.4" ry="31.6" transform="rotate(-25.0 161.0 810.0)" stroke="#111" stroke-width="2.6" fill="none" stroke-linejoin="round" stroke-linecap="round"/>
<ellipse cx="162.4" cy="809.0" rx="19.0" ry="28.0" transform="rotate(-25.0 162.4 809.0)" stroke="#8a8a8a" stroke-width="0.9" fill="none" stroke-linejoin="round" stroke-linecap="round"/>
<path d="M 170.0 790.0 Q 182.0 800.0 184.0 816.0" stroke="#8a8a8a" stroke-width="0.9" fill="none" stroke-linejoin="round" stroke-linecap="round" />
<path d="M 146.0 774.0 Q 158.0 764.0 174.0 770.0 Q 194.0 780.0 200.0 810.0 Q 202.0 834.0 188.0 843.0" stroke="#8a8a8a" stroke-width="0.9" fill="none" stroke-linejoin="round" stroke-linecap="round" />
<path d="M 150.0 754.0 Q 166.0 744.0 182.0 752.0 Q 210.0 766.0 218.0 800.0 Q 222.0 828.0 210.0 849.0" stroke="#8a8a8a" stroke-width="0.9" fill="none" stroke-linejoin="round" stroke-linecap="round" />
<path d="M 158.0 740.0 Q 182.0 730.0 206.0 746.0 Q 230.0 764.0 236.0 800.0 Q 238.0 824.0 230.0 845.0" stroke="#8a8a8a" stroke-width="0.9" fill="none" stroke-linejoin="round" stroke-linecap="round" />
<ellipse cx="225.0" cy="688.0" rx="4.4" ry="5.6" transform="rotate(-20.0 225.0 688.0)" stroke="#444" stroke-width="1.3" fill="none" stroke-linejoin="round" stroke-linecap="round"/>
<ellipse cx="300.0" cy="730.4" rx="4.4" ry="5.6" transform="rotate(-20.0 300.0 730.4)" stroke="#444" stroke-width="1.3" fill="none" stroke-linejoin="round" stroke-linecap="round"/>
<ellipse cx="270.0" cy="783.0" rx="2.4" ry="3.0" transform="rotate(-20.0 270.0 783.0)" stroke="#8a8a8a" stroke-width="0.9" fill="none" stroke-linejoin="round" stroke-linecap="round"/>
<ellipse cx="302.0" cy="765.0" rx="2.4" ry="3.0" transform="rotate(-20.0 302.0 765.0)" stroke="#8a8a8a" stroke-width="0.9" fill="none" stroke-linejoin="round" stroke-linecap="round"/>
<ellipse cx="303.0" cy="803.0" rx="2.4" ry="3.0" transform="rotate(-20.0 303.0 803.0)" stroke="#8a8a8a" stroke-width="0.9" fill="none" stroke-linejoin="round" stroke-linecap="round"/>
<ellipse cx="269.0" cy="822.0" rx="2.4" ry="3.0" transform="rotate(-20.0 269.0 822.0)" stroke="#8a8a8a" stroke-width="0.9" fill="none" stroke-linejoin="round" stroke-linecap="round"/>
<ellipse cx="300.0" cy="817.0" rx="2.4" ry="3.0" transform="rotate(-20.0 300.0 817.0)" stroke="#8a8a8a" stroke-width="0.9" fill="none" stroke-linejoin="round" stroke-linecap="round"/>
<path d="M 279.0 781.0 L 283.0 780.0 L 284.0 797.0 L 280.4 798.0 Z " stroke="none" fill="#151515" />
<path d="M 285.0 794.0 L 330.0 818.0" stroke="#777" stroke-width="0.9" fill="none" stroke-linecap="round" />
<path d="M 319.0 724.0 L 330.0 716.0" stroke="#777" stroke-width="0.9" fill="none" stroke-linecap="round" />
<path d="M 130.0 730.0 L 161.0 713.0 Q 167.0 712.0 166.0 718.0 L 136.0 738.0" stroke="#111" stroke-width="2.6" fill="none" stroke-linejoin="round" stroke-linecap="round" />
<path d="M 133.0 738.0 L 164.0 720.0 M 132.0 731.0 L 162.0 714.0" stroke="#8a8a8a" stroke-width="0.9" fill="none" stroke-linejoin="round" stroke-linecap="round" />
<path d="M 136.0 728.0 L 137.6 736.0" stroke="#8a8a8a" stroke-width="0.9" fill="none" stroke-linejoin="round" stroke-linecap="round" />
<path d="M 138.8 726.4 L 140.4 734.4" stroke="#8a8a8a" stroke-width="0.9" fill="none" stroke-linejoin="round" stroke-linecap="round" />
<path d="M 141.6 725.0 L 143.2 733.0" stroke="#8a8a8a" stroke-width="0.9" fill="none" stroke-linejoin="round" stroke-linecap="round" />
<path d="M 144.4 723.4 L 146.0 731.4" stroke="#8a8a8a" stroke-width="0.9" fill="none" stroke-linejoin="round" stroke-linecap="round" />
<path d="M 147.2 722.0 L 148.8 730.0" stroke="#8a8a8a" stroke-width="0.9" fill="none" stroke-linejoin="round" stroke-linecap="round" />
<path d="M 150.0 720.4 L 151.6 728.4" stroke="#8a8a8a" stroke-width="0.9" fill="none" stroke-linejoin="round" stroke-linecap="round" />
<path d="M 152.8 719.0 L 154.4 727.0" stroke="#8a8a8a" stroke-width="0.9" fill="none" stroke-linejoin="round" stroke-linecap="round" />
<path d="M 155.6 717.4 L 157.2 725.4" stroke="#8a8a8a" stroke-width="0.9" fill="none" stroke-linejoin="round" stroke-linecap="round" />
<path d="M 158.4 716.0 L 160.0 724.0" stroke="#8a8a8a" stroke-width="0.9" fill="none" stroke-linejoin="round" stroke-linecap="round" />
<path d="M 161.2 714.4 L 162.8 722.4" stroke="#8a8a8a" stroke-width="0.9" fill="none" stroke-linejoin="round" stroke-linecap="round" />
<ellipse cx="124.4" cy="737.6" rx="7.0" ry="9.0" transform="rotate(-25.0 124.4 737.6)" stroke="#111" stroke-width="2.6" fill="none" stroke-linejoin="round" stroke-linecap="round"/>
<ellipse cx="124.0" cy="738.0" rx="3.6" ry="5.0" transform="rotate(-25.0 124.0 738.0)" stroke="#444" stroke-width="1.3" fill="none" stroke-linejoin="round" stroke-linecap="round"/>
<path d="M 126.0 728.0 Q 136.0 728.0 137.0 740.0" stroke="#444" stroke-width="1.3" fill="none" stroke-linejoin="round" stroke-linecap="round" />
<ellipse cx="179.0" cy="707.6" rx="5.6" ry="8.4" transform="rotate(-30.0 179.0 707.6)" stroke="#111" stroke-width="2.6" fill="none" stroke-linejoin="round" stroke-linecap="round"/>
<ellipse cx="179.6" cy="708.0" rx="2.8" ry="4.8" transform="rotate(-30.0 179.6 708.0)" stroke="#444" stroke-width="1.3" fill="none" stroke-linejoin="round" stroke-linecap="round"/>
<path d="M 202.0 660.0 L 224.4 672.4" stroke="#777" stroke-width="0.9" fill="none" stroke-linecap="round" />
<path d="M 150.0 691.0 L 172.4 702.4" stroke="#777" stroke-width="0.9" fill="none" stroke-linecap="round" />
<path d="M 113.0 709.0 L 136.0 722.4" stroke="#777" stroke-width="0.9" fill="none" stroke-linecap="round" />
<path d="M 77.0 797.0 L 100.0 809.0" stroke="#777" stroke-width="0.9" fill="none" stroke-linecap="round" />
<path d="M 185.0 704.0 L 201.0 694.4 L 207.0 697.6 L 216.0 692.4" stroke="#777" stroke-width="0.9" fill="none" stroke-linecap="round" />
<path d="M 166.0 712.0 L 174.0 709.0" stroke="#777" stroke-width="0.9" fill="none" stroke-linecap="round" />
<path d="M 135.0 825.0 L 161.0 809.6" stroke="#777" stroke-width="0.9" fill="none" stroke-linecap="round" />
<ellipse cx="113.6" cy="838.0" rx="22.4" ry="30.0" transform="rotate(-25.0 113.6 838.0)" stroke="#111" stroke-width="2.6" fill="none" stroke-linejoin="round" stroke-linecap="round"/>
<ellipse cx="112.0" cy="839.0" rx="19.0" ry="26.4" transform="rotate(-25.0 112.0 839.0)" stroke="#111" stroke-width="2.6" fill="none" stroke-linejoin="round" stroke-linecap="round"/>
<ellipse cx="111.0" cy="839.6" rx="16.4" ry="23.6" transform="rotate(-25.0 111.0 839.6)" stroke="#8a8a8a" stroke-width="0.9" fill="none" stroke-linejoin="round" stroke-linecap="round"/>
<ellipse cx="378.0" cy="685.0" rx="53.6" ry="78.8" transform="rotate(-28.0 378.0 685.0)" stroke="#111" stroke-width="2.6" fill="none" stroke-linejoin="round" stroke-linecap="round"/>
<ellipse cx="379.2" cy="685.6" rx="48.4" ry="73.4" transform="rotate(-28.0 379.2 685.6)" stroke="#8a8a8a" stroke-width="0.9" fill="none" stroke-linejoin="round" stroke-linecap="round"/>
<ellipse cx="380.4" cy="686.4" rx="44.8" ry="69.6" transform="rotate(-28.0 380.4 686.4)" stroke="#8a8a8a" stroke-width="0.9" fill="none" stroke-linejoin="round" stroke-linecap="round"/>
<ellipse cx="381.4" cy="687.2" rx="41.6" ry="66.4" transform="rotate(-28.0 381.4 687.2)" stroke="#444" stroke-width="1.3" fill="none" stroke-linejoin="round" stroke-linecap="round"/>
<path d="M 298.0 604.0 L 328.0 621.0" stroke="#777" stroke-width="0.9" fill="none" stroke-linecap="round" />
<path d="M 318.0 720.0 L 372.4 688.0" stroke="#777" stroke-width="0.9" fill="none" stroke-linecap="round" />
<path d="M 422.0 659.0 L 446.0 646.0" stroke="#777" stroke-width="0.9" fill="none" stroke-linecap="round" />
<path d="M 350.0 810.4 Q 351.0 790.0 366.0 780.0 Q 380.0 772.4 395.0 780.0 L 409.0 786.0 Q 429.0 793.0 436.6 813.0 Q 440.4 829.0 439.4 860.0 L 438.4 900.0 Q 434.4 929.0 406.0 930.4 Q 383.0 932.0 366.0 918.4 Q 351.6 907.0 350.0 880.0 L 350.0 872.0 Q 346.4 875.0 339.0 874.0 Q 330.0 872.0 330.0 864.0 L 331.0 824.0 Q 332.0 817.0 340.0 813.6 L 350.0 810.4" stroke="#111" stroke-width="2.6" fill="none" stroke-linejoin="round" stroke-linecap="round" />
<path d="M 350.0 810.4 Q 346.0 818.0 353.0 823.0 Q 360.0 826.0 366.0 820.0 L 377.0 813.0 Q 388.0 816.0 388.0 826.0 L 388.0 838.0 Q 384.0 844.0 380.0 848.0 Q 376.0 854.0 375.0 858.0 Q 366.0 864.0 360.0 865.0 Q 354.0 868.0 350.0 872.0" stroke="#444" stroke-width="1.3" fill="none" stroke-linejoin="round" stroke-linecap="round" />
<path d="M 369.0 797.0 L 383.0 803.0 Q 404.0 810.0 408.0 824.0 L 409.0 909.0 Q 394.0 904.0 384.0 890.0 Q 375.0 876.0 375.6 858.0" stroke="#8a8a8a" stroke-width="0.9" fill="none" stroke-linejoin="round" stroke-linecap="round" />
<path d="M 377.0 813.0 L 378.0 803.0 Q 380.0 800.0 382.0 806.0 L 382.0 818.0 Q 380.0 824.0 375.0 820.0" stroke="#8a8a8a" stroke-width="0.9" fill="none" stroke-linejoin="round" stroke-linecap="round" />
<ellipse cx="346.0" cy="828.0" rx="6.0" ry="8.0" transform="rotate(-20.0 346.0 828.0)" stroke="#8a8a8a" stroke-width="0.9" fill="none" stroke-linejoin="round" stroke-linecap="round"/>
<ellipse cx="346.0" cy="828.0" rx="3.6" ry="5.2" transform="rotate(-20.0 346.0 828.0)" stroke="#8a8a8a" stroke-width="0.9" fill="none" stroke-linejoin="round" stroke-linecap="round"/>
<path d="M 341.0 820.0 L 343.0 872.0 M 336.0 836.0 Q 348.0 832.0 352.0 836.0 M 336.0 862.0 Q 346.0 860.0 360.0 864.0" stroke="#8a8a8a" stroke-width="0.9" fill="none" stroke-linejoin="round" stroke-linecap="round" />
<path d="M 441.0 858.0 L 463.0 846.0" stroke="#777" stroke-width="0.9" fill="none" stroke-linecap="round" />
<path d="M 350.0 873.0 L 373.4 884.0 L 319.0 916.0 L 332.0 923.0" stroke="#777" stroke-width="0.9" fill="none" stroke-linecap="round" />
<ellipse cx="336.0" cy="927.0" rx="5.0" ry="7.6" transform="rotate(-30.0 336.0 927.0)" stroke="#111" stroke-width="2.6" fill="none" stroke-linejoin="round" stroke-linecap="round"/>
<ellipse cx="336.4" cy="927.0" rx="2.4" ry="4.4" transform="rotate(-30.0 336.4 927.0)" stroke="#8a8a8a" stroke-width="0.9" fill="none" stroke-linejoin="round" stroke-linecap="round"/>
<path d="M 350.0 934.0 L 364.0 941.0 M 348.0 939.0 L 362.0 947.0" stroke="#111" stroke-width="2.6" fill="none" stroke-linejoin="round" stroke-linecap="round" />
<path d="M 350.0 934.0 Q 346.0 936.0 348.0 939.0" stroke="#111" stroke-width="2.6" fill="none" stroke-linejoin="round" stroke-linecap="round" />
<path d="M 351.0 936.0 L 362.0 941.0 M 350.0 938.6 L 361.0 943.6" stroke="#8a8a8a" stroke-width="0.9" fill="none" stroke-linejoin="round" stroke-linecap="round" />
<ellipse cx="369.0" cy="945.0" rx="5.6" ry="8.0" transform="rotate(-35.0 369.0 945.0)" stroke="#111" stroke-width="2.6" fill="none" stroke-linejoin="round" stroke-linecap="round"/>
<ellipse cx="369.6" cy="944.4" rx="3.0" ry="4.8" transform="rotate(-35.0 369.6 944.4)" stroke="#8a8a8a" stroke-width="0.9" fill="none" stroke-linejoin="round" stroke-linecap="round"/>
<path d="M 306.0 941.0 L 330.0 929.6" stroke="#777" stroke-width="0.9" fill="none" stroke-linecap="round" />
<path d="M 336.0 960.0 L 358.0 949.6" stroke="#777" stroke-width="0.9" fill="none" stroke-linecap="round" />
<path d="M 340.0 930.0 L 347.0 934.0" stroke="#777" stroke-width="0.9" fill="none" stroke-linecap="round" />
<path d="M 581.0 914.4 L 633.6 884.0 Q 639.2 882.4 640.0 887.6 L 640.0 896.4 Q 638.4 902.0 632.0 905.0 L 614.4 918.0 Q 613.0 921.0 610.4 920.0 Q 596.0 927.0 587.0 929.2 Q 582.4 928.4 581.6 924.4 Z " stroke="#111" stroke-width="2.6" fill="none" stroke-linejoin="round" stroke-linecap="round" />
<path d="M 583.6 917.6 L 638.0 889.0" stroke="#8a8a8a" stroke-width="0.9" fill="none" stroke-linejoin="round" stroke-linecap="round" />
<path d="M 590.0 880.0 L 614.0 893.0" stroke="#777" stroke-width="0.9" fill="none" stroke-linecap="round" />
<path d="M 609.0 944.0 Q 612.0 940.0 615.0 944.0 L 615.6 962.0 Q 612.4 965.0 609.6 962.0 Z " stroke="#111" stroke-width="2.6" fill="none" stroke-linejoin="round" stroke-linecap="round" />
<path d="M 609.6 946.0 L 615.2 947.2" stroke="#8a8a8a" stroke-width="0.9" fill="none" stroke-linejoin="round" stroke-linecap="round" />
<path d="M 609.6 948.4 L 615.2 949.6" stroke="#8a8a8a" stroke-width="0.9" fill="none" stroke-linejoin="round" stroke-linecap="round" />
<path d="M 609.6 950.8 L 615.2 952.0" stroke="#8a8a8a" stroke-width="0.9" fill="none" stroke-linejoin="round" stroke-linecap="round" />
<path d="M 609.6 953.2 L 615.2 954.4" stroke="#8a8a8a" stroke-width="0.9" fill="none" stroke-linejoin="round" stroke-linecap="round" />
<path d="M 609.6 955.6 L 615.2 956.8" stroke="#8a8a8a" stroke-width="0.9" fill="none" stroke-linejoin="round" stroke-linecap="round" />
<path d="M 609.6 958.0 L 615.2 959.2" stroke="#8a8a8a" stroke-width="0.9" fill="none" stroke-linejoin="round" stroke-linecap="round" />
<path d="M 609.6 960.4 L 615.2 961.6" stroke="#8a8a8a" stroke-width="0.9" fill="none" stroke-linejoin="round" stroke-linecap="round" />
<path d="M 583.0 946.0 L 608.0 960.0" stroke="#777" stroke-width="0.9" fill="none" stroke-linecap="round" />
<path d="M 612.0 922.0 L 612.0 941.0 M 612.0 965.0 L 612.0 984.0" stroke="#777" stroke-width="0.9" fill="none" stroke-linecap="round" />
<path d="M 565.0 995.6 L 632.0 963.0 Q 648.0 961.0 658.0 973.0 Q 668.4 990.0 664.4 1010.0 Q 662.4 1025.0 660.0 1031.0 L 593.6 1058.0" stroke="#111" stroke-width="2.6" fill="none" stroke-linejoin="round" stroke-linecap="round" />
<ellipse cx="579.0" cy="1027.0" rx="17.6" ry="33.0" transform="rotate(-22.0 579.0 1027.0)" stroke="#111" stroke-width="2.6" fill="#fff" stroke-linejoin="round" stroke-linecap="round"/>
<path d="M 584.0 999.0 L 638.0 970.0 M 583.6 999.0 L 586.0 1011.0 M 586.0 1011.0 L 640.0 982.0" stroke="#8a8a8a" stroke-width="0.9" fill="none" stroke-linejoin="round" stroke-linecap="round" />
<path d="M 595.6 1026.0 L 660.0 999.0 M 598.4 1045.0 L 660.4 1020.0 M 595.6 1026.0 L 598.4 1045.0" stroke="#8a8a8a" stroke-width="0.9" fill="none" stroke-linejoin="round" stroke-linecap="round" />
<path d="M 640.0 967.0 Q 650.0 978.0 652.0 994.0 Q 653.0 1010.0 648.0 1024.0" stroke="#8a8a8a" stroke-width="0.9" fill="none" stroke-linejoin="round" stroke-linecap="round" />
<path d="M 566.4 1004.4 L 574.4 1010.0 M 567.6 1048.0 L 575.2 1052.4 M 594.4 1052.0 L 599.6 1056.0 M 589.0 1002.0 L 594.0 1008.0" stroke="#444" stroke-width="1.3" fill="none" stroke-linejoin="round" stroke-linecap="round" />
<path d="M 570.0 1020.0 Q 580.0 1017.0 588.0 1024.0" stroke="#8a8a8a" stroke-width="0.9" fill="none" stroke-linejoin="round" stroke-linecap="round" />
<path d="M 548.0 1031.0 L 570.0 1019.0 Q 580.0 1016.0 586.0 1022.4 L 589.0 1047.0 L 563.0 1058.0 Q 550.0 1059.0 545.6 1048.0 Q 544.0 1038.0 548.0 1031.0 Z " stroke="#111" stroke-width="2.6" fill="#fff" stroke-linejoin="round" stroke-linecap="round" />
<ellipse cx="553.0" cy="1043.6" rx="7.6" ry="12.0" transform="rotate(-25.0 553.0 1043.6)" stroke="#444" stroke-width="1.3" fill="none" stroke-linejoin="round" stroke-linecap="round"/>
<ellipse cx="553.4" cy="1043.6" rx="1.2" ry="1.6" transform="rotate(0.0 553.4 1043.6)" stroke="none" fill="#151515"/>
<path d="M 559.0 1025.0 L 565.0 1052.0" stroke="#8a8a8a" stroke-width="0.9" fill="none" stroke-linejoin="round" stroke-linecap="round" />
<path d="M 561.8 1023.8 L 567.8 1050.8" stroke="#8a8a8a" stroke-width="0.9" fill="none" stroke-linejoin="round" stroke-linecap="round" />
<path d="M 564.6 1022.6 L 570.6 1049.6" stroke="#8a8a8a" stroke-width="0.9" fill="none" stroke-linejoin="round" stroke-linecap="round" />
<path d="M 567.4 1021.4 L 573.4 1048.4" stroke="#8a8a8a" stroke-width="0.9" fill="none" stroke-linejoin="round" stroke-linecap="round" />
<path d="M 570.2 1020.2 L 576.2 1047.2" stroke="#8a8a8a" stroke-width="0.9" fill="none" stroke-linejoin="round" stroke-linecap="round" />
<path d="M 573.0 1019.0 L 579.0 1046.0" stroke="#8a8a8a" stroke-width="0.9" fill="none" stroke-linejoin="round" stroke-linecap="round" />
<path d="M 575.8 1017.8 L 581.8 1044.8" stroke="#8a8a8a" stroke-width="0.9" fill="none" stroke-linejoin="round" stroke-linecap="round" />
<path d="M 578.6 1016.6 L 584.6 1043.6" stroke="#8a8a8a" stroke-width="0.9" fill="none" stroke-linejoin="round" stroke-linecap="round" />
<path d="M 638.0 1043.0 L 674.0 1064.0" stroke="#777" stroke-width="0.9" fill="none" stroke-linecap="round" />
<path d="M 540.0 1054.0 L 552.0 1047.0" stroke="#777" stroke-width="0.9" fill="none" stroke-linecap="round" />
<path d="M 666.0 980.0 L 702.0 959.0" stroke="#777" stroke-width="0.9" fill="none" stroke-linecap="round" />
<path d="M 666.0 936.0 Q 671.0 917.0 680.0 910.4 L 734.0 882.4 Q 744.0 878.4 754.0 884.0 Q 778.0 896.4 788.0 920.4 Q 793.6 936.0 789.0 962.0 Q 782.0 980.0 767.0 982.0 L 758.0 980.0 L 752.0 983.6 L 742.0 990.0 L 732.0 1004.0 Q 721.0 1010.0 708.0 1006.4 Q 680.0 997.0 669.6 963.0 Q 665.0 948.0 666.0 936.0 Z " stroke="#111" stroke-width="2.6" fill="none" stroke-linejoin="round" stroke-linecap="round" />
<ellipse cx="703.6" cy="959.0" rx="34.0" ry="50.0" transform="rotate(-22.0 703.6 959.0)" stroke="#444" stroke-width="1.3" fill="none" stroke-linejoin="round" stroke-linecap="round"/>
<ellipse cx="706.0" cy="957.0" rx="29.0" ry="45.0" transform="rotate(-22.0 706.0 957.0)" stroke="#8a8a8a" stroke-width="0.9" fill="none" stroke-linejoin="round" stroke-linecap="round"/>
<ellipse cx="712.4" cy="910.0" rx="3.6" ry="2.6" transform="rotate(-25.0 712.4 910.0)" stroke="#8a8a8a" stroke-width="0.9" fill="none" stroke-linejoin="round" stroke-linecap="round"/>
<ellipse cx="728.4" cy="901.6" rx="3.6" ry="2.6" transform="rotate(-25.0 728.4 901.6)" stroke="#8a8a8a" stroke-width="0.9" fill="none" stroke-linejoin="round" stroke-linecap="round"/>
<ellipse cx="744.4" cy="892.4" rx="3.6" ry="2.6" transform="rotate(-25.0 744.4 892.4)" stroke="#8a8a8a" stroke-width="0.9" fill="none" stroke-linejoin="round" stroke-linecap="round"/>
<ellipse cx="683.0" cy="935.6" rx="3.6" ry="2.6" transform="rotate(-25.0 683.0 935.6)" stroke="#8a8a8a" stroke-width="0.9" fill="none" stroke-linejoin="round" stroke-linecap="round"/>
<ellipse cx="687.0" cy="949.4" rx="3.6" ry="2.6" transform="rotate(-25.0 687.0 949.4)" stroke="#8a8a8a" stroke-width="0.9" fill="none" stroke-linejoin="round" stroke-linecap="round"/>
<ellipse cx="712.4" cy="959.6" rx="3.6" ry="2.6" transform="rotate(-25.0 712.4 959.6)" stroke="#8a8a8a" stroke-width="0.9" fill="none" stroke-linejoin="round" stroke-linecap="round"/>
<ellipse cx="717.0" cy="932.0" rx="3.6" ry="2.6" transform="rotate(-25.0 717.0 932.0)" stroke="#8a8a8a" stroke-width="0.9" fill="none" stroke-linejoin="round" stroke-linecap="round"/>
<ellipse cx="702.0" cy="996.0" rx="3.6" ry="2.6" transform="rotate(-25.0 702.0 996.0)" stroke="#8a8a8a" stroke-width="0.9" fill="none" stroke-linejoin="round" stroke-linecap="round"/>
<ellipse cx="748.0" cy="972.4" rx="3.6" ry="2.6" transform="rotate(-25.0 748.0 972.4)" stroke="#8a8a8a" stroke-width="0.9" fill="none" stroke-linejoin="round" stroke-linecap="round"/>
<ellipse cx="779.0" cy="956.0" rx="3.6" ry="2.6" transform="rotate(-25.0 779.0 956.0)" stroke="#8a8a8a" stroke-width="0.9" fill="none" stroke-linejoin="round" stroke-linecap="round"/>
<path d="M 745.0 955.0 L 781.0 935.0 Q 784.0 944.0 782.0 970.0 L 774.0 978.0 L 748.0 983.0" stroke="#8a8a8a" stroke-width="0.9" fill="none" stroke-linejoin="round" stroke-linecap="round" />
<path d="M 678.4 1011.0 Q 676.0 1008.0 679.0 1005.6 L 688.0 1001.4 Q 691.6 1001.6 691.0 1005.0 L 681.0 1011.0 Q 679.6 1011.6 678.4 1011.0 Z " stroke="#111" stroke-width="2.6" fill="none" stroke-linejoin="round" stroke-linecap="round" />
<path d="M 801.0 943.0 Q 798.0 940.0 801.0 937.6 L 809.0 933.0 Q 812.6 933.0 812.0 936.6 L 803.6 943.0 Q 802.0 943.6 801.0 943.0 Z " stroke="#111" stroke-width="2.6" fill="none" stroke-linejoin="round" stroke-linecap="round" />
<path d="M 686.0 1012.4 L 724.4 1034.0" stroke="#777" stroke-width="0.9" fill="none" stroke-linecap="round" />
<path d="M 770.0 983.0 L 794.0 996.4" stroke="#777" stroke-width="0.9" fill="none" stroke-linecap="round" />
<path d="M 813.0 942.0 L 820.0 946.0" stroke="#777" stroke-width="0.9" fill="none" stroke-linecap="round" />
<ellipse cx="829.6" cy="884.4" rx="37.0" ry="53.0" transform="rotate(-25.0 829.6 884.4)" stroke="#111" stroke-width="2.6" fill="none" stroke-linejoin="round" stroke-linecap="round"/>
<path d="M 816.0 835.0 Q 834.0 836.0 852.0 851.0 Q 870.0 870.0 873.6 892.0 Q 875.6 912.0 864.0 923.0 Q 857.0 932.0 848.0 934.4" stroke="#111" stroke-width="2.6" fill="none" stroke-linejoin="round" stroke-linecap="round" />
<path d="M 834.0 839.0 Q 852.0 848.0 866.0 872.0 Q 872.0 888.0 871.0 906.0" stroke="#8a8a8a" stroke-width="0.9" fill="none" stroke-linejoin="round" stroke-linecap="round" />
<ellipse cx="830.0" cy="886.0" rx="11.0" ry="15.6" transform="rotate(-25.0 830.0 886.0)" stroke="#8a8a8a" stroke-width="0.9" fill="none" stroke-linejoin="round" stroke-linecap="round"/>
<ellipse cx="831.0" cy="885.0" rx="8.4" ry="13.6" transform="rotate(-25.0 831.0 885.0)" stroke="#8a8a8a" stroke-width="0.9" fill="none" stroke-linejoin="round" stroke-linecap="round"/>
<ellipse cx="830.4" cy="923.0" rx="2.4" ry="3.0" transform="rotate(-20.0 830.4 923.0)" stroke="#8a8a8a" stroke-width="0.9" fill="none" stroke-linejoin="round" stroke-linecap="round"/>
<path d="M 781.0 827.0 Q 782.0 825.0 783.6 826.0 L 788.4 833.6 Q 788.0 835.6 786.4 835.0 Z " stroke="#8a8a8a" stroke-width="0.9" fill="none" stroke-linejoin="round" stroke-linecap="round" />
<path d="M 757.0 812.0 L 780.0 825.0 M 789.0 836.4 L 796.4 842.4" stroke="#777" stroke-width="0.9" fill="none" stroke-linecap="round" />
<path d="M 869.0 926.0 L 891.0 938.4" stroke="#777" stroke-width="0.9" fill="none" stroke-linecap="round" />
<path d="M 806.0 941.0 L 846.0 964.0" stroke="#777" stroke-width="0.9" fill="none" stroke-linecap="round" />
<path d="M 784.0 912.0 L 828.0 887.0" stroke="#777" stroke-width="0.9" fill="none" stroke-linecap="round" />
<path d="M 868.0 865.0 L 892.0 851.6" stroke="#777" stroke-width="0.9" fill="none" stroke-linecap="round" />
<path d="M 884.0 819.0 Q 896.0 813.0 910.0 818.0 Q 924.0 826.0 928.0 846.0 Q 929.0 866.0 918.0 875.0 Q 910.0 879.0 902.0 877.0" stroke="#111" stroke-width="2.6" fill="none" stroke-linejoin="round" stroke-linecap="round" />
<ellipse cx="892.4" cy="850.4" rx="20.0" ry="29.0" transform="rotate(-25.0 892.4 850.4)" stroke="#111" stroke-width="2.6" fill="none" stroke-linejoin="round" stroke-linecap="round"/>
<ellipse cx="894.0" cy="849.0" rx="17.0" ry="25.6" transform="rotate(-25.0 894.0 849.0)" stroke="#8a8a8a" stroke-width="0.9" fill="none" stroke-linejoin="round" stroke-linecap="round"/>
<ellipse cx="895.6" cy="847.6" rx="14.4" ry="22.4" transform="rotate(-25.0 895.6 847.6)" stroke="#8a8a8a" stroke-width="0.9" fill="none" stroke-linejoin="round" stroke-linecap="round"/>
<ellipse cx="896.4" cy="847.0" rx="9.0" ry="14.4" transform="rotate(-25.0 896.4 847.0)" stroke="#444" stroke-width="1.3" fill="none" stroke-linejoin="round" stroke-linecap="round"/>
<ellipse cx="897.6" cy="846.0" rx="7.0" ry="12.0" transform="rotate(-25.0 897.6 846.0)" stroke="#8a8a8a" stroke-width="0.9" fill="none" stroke-linejoin="round" stroke-linecap="round"/>
<path d="M 860.0 805.0 L 884.4 818.4" stroke="#777" stroke-width="0.9" fill="none" stroke-linecap="round" />
<path d="M 924.0 832.0 L 940.0 823.0" stroke="#777" stroke-width="0.9" fill="none" stroke-linecap="round" />
<path d="M 948.0 818.0 L 982.4 798.0" stroke="#777" stroke-width="0.9" fill="none" stroke-linecap="round" />
<path d="M 1024.0 773.6 L 1040.0 765.6" stroke="#777" stroke-width="0.9" fill="none" stroke-linecap="round" />
<path d="M 940.0 729.0 Q 944.0 726.4 950.0 730.0 L 1019.0 772.4 Q 1024.4 776.0 1024.4 784.0 L 1025.0 863.0 Q 1024.0 869.6 1019.0 868.0 L 1010.0 863.6 L 1008.0 869.0 L 1002.0 875.0 Q 998.0 876.4 994.0 873.0 L 957.0 853.6 Q 950.0 846.0 948.0 838.0 L 940.0 821.0 Q 936.0 810.0 936.4 800.0 L 934.4 766.0 Q 934.4 746.0 937.0 734.4 Q 937.6 730.4 940.0 729.0 Z " stroke="#111" stroke-width="2.6" fill="none" stroke-linejoin="round" stroke-linecap="round" />
<ellipse cx="981.6" cy="798.4" rx="24.4" ry="34.0" transform="rotate(-22.0 981.6 798.4)" stroke="#444" stroke-width="1.3" fill="none" stroke-linejoin="round" stroke-linecap="round"/>
<path d="M 953.0 808.0 Q 956.0 804.0 960.0 809.0 L 973.0 828.0 Q 974.0 832.0 970.0 831.6 L 955.0 813.0 Z " stroke="#444" stroke-width="1.3" fill="none" stroke-linejoin="round" stroke-linecap="round" />
<path d="M 990.0 836.0 Q 998.0 832.0 1006.0 835.0 Q 1009.0 840.0 1004.0 845.0 Q 996.0 846.0 991.0 842.0 Z " stroke="#444" stroke-width="1.3" fill="none" stroke-linejoin="round" stroke-linecap="round" />
<ellipse cx="966.4" cy="842.4" rx="4.4" ry="6.0" transform="rotate(-20.0 966.4 842.4)" stroke="#444" stroke-width="1.3" fill="none" stroke-linejoin="round" stroke-linecap="round"/>
<ellipse cx="997.0" cy="859.4" rx="4.4" ry="6.0" transform="rotate(-20.0 997.0 859.4)" stroke="#444" stroke-width="1.3" fill="none" stroke-linejoin="round" stroke-linecap="round"/>
<path d="M 977.0 845.0 L 987.0 850.0 L 987.6 861.0 L 977.6 856.0 Z " stroke="#444" stroke-width="1.3" fill="none" stroke-linejoin="round" stroke-linecap="round" />
<ellipse cx="947.0" cy="737.6" rx="2.4" ry="3.6" transform="rotate(-20.0 947.0 737.6)" stroke="#444" stroke-width="1.3" fill="none" stroke-linejoin="round" stroke-linecap="round"/>
<ellipse cx="1017.0" cy="778.0" rx="2.4" ry="3.6" transform="rotate(-20.0 1017.0 778.0)" stroke="#444" stroke-width="1.3" fill="none" stroke-linejoin="round" stroke-linecap="round"/>
<ellipse cx="1017.0" cy="859.0" rx="2.4" ry="3.6" transform="rotate(-20.0 1017.0 859.0)" stroke="#444" stroke-width="1.3" fill="none" stroke-linejoin="round" stroke-linecap="round"/>
<ellipse cx="946.4" cy="818.0" rx="2.4" ry="3.6" transform="rotate(-20.0 946.4 818.0)" stroke="#444" stroke-width="1.3" fill="none" stroke-linejoin="round" stroke-linecap="round"/>
<path d="M 908.0 725.0 L 935.0 740.0" stroke="#777" stroke-width="0.9" fill="none" stroke-linecap="round" />
<path d="M 1201.0 574.0 Q 1198.0 569.0 1203.0 566.4 L 1226.0 553.0 Q 1230.0 551.0 1232.0 554.0 L 1236.0 559.0 L 1206.0 574.0 Q 1203.0 575.6 1201.0 574.0 Z " stroke="#111" stroke-width="2.6" fill="none" stroke-linejoin="round" stroke-linecap="round" />
<path d="M 1204.0 568.0 L 1205.2 574.0" stroke="#8a8a8a" stroke-width="0.9" fill="none" stroke-linejoin="round" stroke-linecap="round" />
<path d="M 1206.8 566.4 L 1208.0 572.4" stroke="#8a8a8a" stroke-width="0.9" fill="none" stroke-linejoin="round" stroke-linecap="round" />
<path d="M 1209.6 564.8 L 1210.8 570.8" stroke="#8a8a8a" stroke-width="0.9" fill="none" stroke-linejoin="round" stroke-linecap="round" />
<path d="M 1212.4 563.2 L 1213.6 569.2" stroke="#8a8a8a" stroke-width="0.9" fill="none" stroke-linejoin="round" stroke-linecap="round" />
<path d="M 1215.2 561.6 L 1216.4 567.6" stroke="#8a8a8a" stroke-width="0.9" fill="none" stroke-linejoin="round" stroke-linecap="round" />
<path d="M 1218.0 560.0 L 1219.2 566.0" stroke="#8a8a8a" stroke-width="0.9" fill="none" stroke-linejoin="round" stroke-linecap="round" />
<path d="M 1220.8 558.4 L 1222.0 564.4" stroke="#8a8a8a" stroke-width="0.9" fill="none" stroke-linejoin="round" stroke-linecap="round" />
<path d="M 1223.6 556.8 L 1224.8 562.8" stroke="#8a8a8a" stroke-width="0.9" fill="none" stroke-linejoin="round" stroke-linecap="round" />
<ellipse cx="1232.0" cy="551.6" rx="5.6" ry="7.6" transform="rotate(-35.0 1232.0 551.6)" stroke="#111" stroke-width="2.6" fill="none" stroke-linejoin="round" stroke-linecap="round"/>
<ellipse cx="1232.6" cy="551.0" rx="2.8" ry="4.4" transform="rotate(-35.0 1232.6 551.0)" stroke="#8a8a8a" stroke-width="0.9" fill="none" stroke-linejoin="round" stroke-linecap="round"/>
<ellipse cx="1185.6" cy="580.0" rx="6.0" ry="8.4" transform="rotate(-30.0 1185.6 580.0)" stroke="#111" stroke-width="2.6" fill="none" stroke-linejoin="round" stroke-linecap="round"/>
<ellipse cx="1186.0" cy="580.0" rx="2.8" ry="4.8" transform="rotate(-30.0 1186.0 580.0)" stroke="#444" stroke-width="1.3" fill="none" stroke-linejoin="round" stroke-linecap="round"/>
<path d="M 1192.0 538.0 L 1216.0 551.0" stroke="#777" stroke-width="0.9" fill="none" stroke-linecap="round" />
<path d="M 1150.0 562.0 L 1178.0 576.4" stroke="#777" stroke-width="0.9" fill="none" stroke-linecap="round" />
<path d="M 1194.0 573.0 L 1199.0 570.4" stroke="#777" stroke-width="0.9" fill="none" stroke-linecap="round" />
<path d="M 1188.0 584.0 L 1173.0 589.0 L 1186.0 596.0 L 1177.0 600.0 L 1189.0 603.0" stroke="#777" stroke-width="0.9" fill="none" stroke-linecap="round" />
<path d="M 1100.0 612.0 L 1145.0 636.4" stroke="#777" stroke-width="0.9" fill="none" stroke-linecap="round" />
<path d="M 1289.0 620.0 L 1343.0 589.0" stroke="#777" stroke-width="0.9" fill="none" stroke-linecap="round" />
<path d="M 1300.0 712.0 L 1308.0 718.0 L 1362.0 687.0 L 1388.0 701.6" stroke="#777" stroke-width="0.9" fill="none" stroke-linecap="round" />
<path d="M 1130.0 713.0 L 1152.4 701.0 M 1188.0 684.0 L 1204.0 675.0" stroke="#777" stroke-width="0.9" fill="none" stroke-linecap="round" />
<path d="M 1336.0 544.0 L 1358.0 557.0" stroke="#777" stroke-width="0.9" fill="none" stroke-linecap="round" />
<path d="M 1376.0 627.0 L 1400.0 613.6" stroke="#777" stroke-width="0.9" fill="none" stroke-linecap="round" />
<path d="M 1366.0 492.0 L 1388.4 505.0" stroke="#777" stroke-width="0.9" fill="none" stroke-linecap="round" />
<path d="M 1152.0 605.3 Q 1156.0 601.3 1164.0 600.0 L 1193.3 609.3 Q 1198.7 606.7 1202.7 600.0 Q 1214.7 586.7 1233.3 577.3 Q 1246.7 570.0 1254.7 569.3 Q 1273.3 570.7 1281.3 580.0 Q 1285.6 586.7 1286.0 600.0 L 1286.7 629.3 Q 1286.9 645.3 1294.7 656.0 Q 1304.3 666.7 1306.7 680.0 L 1306.7 700.0 Q 1305.3 708.3 1296.0 710.7 L 1284.0 713.3 L 1257.3 725.3 L 1248.7 736.0 Q 1246.7 744.7 1240.0 748.3 Q 1233.3 752.0 1222.7 749.6 L 1213.3 748.0 L 1180.0 733.3 Q 1170.9 725.3 1166.7 714.7 Q 1161.6 706.7 1154.9 701.6 Q 1150.7 696.0 1150.7 688.0 L 1149.3 616.0 Q 1149.3 609.3 1152.0 605.3 Z " stroke="#111" stroke-width="2.6" fill="none" stroke-linejoin="round" stroke-linecap="round" />
<path d="M 1164.0 600.0 L 1226.7 640.0 Q 1236.0 645.3 1241.3 650.7 Q 1245.3 656.0 1245.6 666.7 L 1246.7 741.3" stroke="#444" stroke-width="1.3" fill="none" stroke-linejoin="round" stroke-linecap="round" />
<path d="M 1226.7 640.0 L 1233.3 638.7 Q 1244.0 642.7 1249.3 656.0 Q 1254.7 669.3 1254.7 725.3" stroke="#8a8a8a" stroke-width="0.9" fill="none" stroke-linejoin="round" stroke-linecap="round" />
<path d="M 1193.3 609.3 L 1214.7 622.7 L 1218.7 626.7" stroke="#8a8a8a" stroke-width="0.9" fill="none" stroke-linejoin="round" stroke-linecap="round" />
<path d="M 1190.7 656.0 Q 1198.7 645.3 1209.3 648.0 Q 1220.0 653.3 1221.3 669.3 Q 1221.3 688.0 1212.0 692.0 Q 1204.0 693.3 1196.0 688.0" stroke="#111" stroke-width="2.6" fill="none" stroke-linejoin="round" stroke-linecap="round" />
<path d="M 1190.7 656.0 Q 1185.3 665.3 1188.0 677.3 Q 1190.7 685.3 1196.0 688.0" stroke="#444" stroke-width="1.3" fill="none" stroke-linejoin="round" stroke-linecap="round" />
<ellipse cx="1201.3" cy="674.7" rx="30.7" ry="38.7" transform="rotate(-22.0 1201.3 674.7)" stroke="#8a8a8a" stroke-width="0.9" fill="none" stroke-linejoin="round" stroke-linecap="round"/>
<ellipse cx="1202.7" cy="674.0" rx="25.3" ry="33.3" transform="rotate(-22.0 1202.7 674.0)" stroke="#8a8a8a" stroke-width="0.9" fill="none" stroke-linejoin="round" stroke-linecap="round"/>
<path d="M 1198.7 662.7 L 1214.7 672.0" stroke="#111" stroke-width="2.6" fill="none" stroke-linejoin="round" stroke-linecap="round" stroke-width="3.6"/>
<ellipse cx="1158.7" cy="614.7" rx="3.2" ry="4.0" transform="rotate(-20.0 1158.7 614.7)" stroke="#444" stroke-width="1.3" fill="none" stroke-linejoin="round" stroke-linecap="round"/>
<ellipse cx="1229.3" cy="653.3" rx="3.2" ry="4.0" transform="rotate(-20.0 1229.3 653.3)" stroke="#444" stroke-width="1.3" fill="none" stroke-linejoin="round" stroke-linecap="round"/>
<ellipse cx="1158.7" cy="696.0" rx="3.2" ry="4.0" transform="rotate(-20.0 1158.7 696.0)" stroke="#444" stroke-width="1.3" fill="none" stroke-linejoin="round" stroke-linecap="round"/>
<ellipse cx="1229.6" cy="736.0" rx="3.2" ry="4.0" transform="rotate(-20.0 1229.6 736.0)" stroke="#444" stroke-width="1.3" fill="none" stroke-linejoin="round" stroke-linecap="round"/>
<path d="M 1171.3 626.0 L 1182.7 623.3 L 1190.0 630.0 L 1180.0 637.3 Z " stroke="#444" stroke-width="1.3" fill="none" stroke-linejoin="round" stroke-linecap="round" />
<path d="M 1157.3 640.0 L 1163.3 630.0 L 1169.3 640.0 L 1162.0 652.0 Z " stroke="#444" stroke-width="1.3" fill="none" stroke-linejoin="round" stroke-linecap="round" />
<path d="M 1200.0 637.3 L 1202.7 634.0 L 1218.7 652.0 L 1214.7 656.7 L 1200.7 642.7 Z " stroke="#444" stroke-width="1.3" fill="none" stroke-linejoin="round" stroke-linecap="round" />
<path d="M 1155.3 661.3 L 1158.7 658.7 L 1169.3 680.0 L 1165.3 684.7 L 1156.0 666.7 Z " stroke="#444" stroke-width="1.3" fill="none" stroke-linejoin="round" stroke-linecap="round" />
<path d="M 1220.7 668.0 L 1225.3 665.3 L 1233.3 680.0 L 1230.7 692.0 L 1221.3 677.3 Z " stroke="#444" stroke-width="1.3" fill="none" stroke-linejoin="round" stroke-linecap="round" />
<path d="M 1220.7 708.0 L 1228.7 698.7 L 1234.7 706.7 L 1226.7 720.0 Z " stroke="#444" stroke-width="1.3" fill="none" stroke-linejoin="round" stroke-linecap="round" />
<path d="M 1170.7 696.0 L 1177.3 693.3 L 1188.0 706.7 L 1186.7 714.7 L 1182.7 732.0 L 1172.0 720.0 Z " stroke="#444" stroke-width="1.3" fill="none" stroke-linejoin="round" stroke-linecap="round" />
<path d="M 1188.7 721.3 L 1193.3 720.0 L 1200.0 726.7 L 1197.3 738.7 L 1189.3 732.0 Z " stroke="#444" stroke-width="1.3" fill="none" stroke-linejoin="round" stroke-linecap="round" />
<path d="M 1200.7 717.3 L 1208.0 713.3 L 1217.3 724.0 L 1214.7 746.7 L 1204.0 742.7 L 1200.7 728.0 Z " stroke="#444" stroke-width="1.3" fill="none" stroke-linejoin="round" stroke-linecap="round" />
<path d="M 1173.3 629.3 L 1185.3 626.7 M 1160.0 640.0 L 1165.3 632.0 M 1202.7 638.7 L 1216.0 653.3 M 1158.0 662.7 L 1167.3 680.0 M 1222.7 669.3 L 1231.3 682.7 M 1223.3 708.0 L 1229.3 701.3 M 1173.3 698.7 L 1185.3 708.0 M 1190.7 724.0 L 1197.3 728.0 M 1202.7 718.7 L 1214.7 725.3" stroke="#8a8a8a" stroke-width="0.9" fill="none" stroke-linejoin="round" stroke-linecap="round" />
<path d="M 1217.3 624.0 Q 1226.7 610.7 1244.0 605.3 Q 1256.0 604.0 1258.0 616.0 L 1258.7 685.3" stroke="#444" stroke-width="1.3" fill="none" stroke-linejoin="round" stroke-linecap="round" />
<path d="M 1237.3 613.3 L 1238.7 642.7 L 1246.7 645.3 L 1246.7 609.3 M 1241.3 612.0 L 1242.7 641.3" stroke="#8a8a8a" stroke-width="0.9" fill="none" stroke-linejoin="round" stroke-linecap="round" />
<path d="M 1214.7 590.7 L 1233.3 600.0 L 1281.3 580.0" stroke="#8a8a8a" stroke-width="0.9" fill="none" stroke-linejoin="round" stroke-linecap="round" />
<path d="M 1246.7 577.3 L 1250.7 573.3 L 1262.7 576.0 L 1254.7 580.0 Z " stroke="#444" stroke-width="1.3" fill="none" stroke-linejoin="round" stroke-linecap="round" />
<path d="M 1266.7 600.0 Q 1272.0 592.0 1278.7 592.0 Q 1281.6 594.7 1281.3 600.0 L 1280.0 669.3 Q 1277.3 676.3 1270.7 676.8 Q 1266.4 674.9 1266.0 669.3 Z " stroke="#444" stroke-width="1.3" fill="none" stroke-linejoin="round" stroke-linecap="round" />
<path d="M 1266.4 599.3 L 1281.1 594.0" stroke="#8a8a8a" stroke-width="0.9" fill="none" stroke-linejoin="round" stroke-linecap="round" />
<path d="M 1266.4 594.0 L 1281.1 599.3" stroke="#8a8a8a" stroke-width="0.9" fill="none" stroke-linejoin="round" stroke-linecap="round" />
<path d="M 1266.4 604.7 L 1281.1 599.3" stroke="#8a8a8a" stroke-width="0.9" fill="none" stroke-linejoin="round" stroke-linecap="round" />
<path d="M 1266.4 599.3 L 1281.1 604.7" stroke="#8a8a8a" stroke-width="0.9" fill="none" stroke-linejoin="round" stroke-linecap="round" />
<path d="M 1266.4 610.0 L 1281.1 604.7" stroke="#8a8a8a" stroke-width="0.9" fill="none" stroke-linejoin="round" stroke-linecap="round" />
<path d="M 1266.4 604.7 L 1281.1 610.0" stroke="#8a8a8a" stroke-width="0.9" fill="none" stroke-linejoin="round" stroke-linecap="round" />
<path d="M 1266.4 615.3 L 1281.1 610.0" stroke="#8a8a8a" stroke-width="0.9" fill="none" stroke-linejoin="round" stroke-linecap="round" />
<path d="M 1266.4 610.0 L 1281.1 615.3" stroke="#8a8a8a" stroke-width="0.9" fill="none" stroke-linejoin="round" stroke-linecap="round" />
<path d="M 1266.4 620.7 L 1281.1 615.3" stroke="#8a8a8a" stroke-width="0.9" fill="none" stroke-linejoin="round" stroke-linecap="round" />
<path d="M 1266.4 615.3 L 1281.1 620.7" stroke="#8a8a8a" stroke-width="0.9" fill="none" stroke-linejoin="round" stroke-linecap="round" />
<path d="M 1266.4 626.0 L 1281.1 620.7" stroke="#8a8a8a" stroke-width="0.9" fill="none" stroke-linejoin="round" stroke-linecap="round" />
<path d="M 1266.4 620.7 L 1281.1 626.0" stroke="#8a8a8a" stroke-width="0.9" fill="none" stroke-linejoin="round" stroke-linecap="round" />
<path d="M 1266.4 631.3 L 1281.1 626.0" stroke="#8a8a8a" stroke-width="0.9" fill="none" stroke-linejoin="round" stroke-linecap="round" />
<path d="M 1266.4 626.0 L 1281.1 631.3" stroke="#8a8a8a" stroke-width="0.9" fill="none" stroke-linejoin="round" stroke-linecap="round" />
<path d="M 1266.4 636.7 L 1281.1 631.3" stroke="#8a8a8a" stroke-width="0.9" fill="none" stroke-linejoin="round" stroke-linecap="round" />
<path d="M 1266.4 631.3 L 1281.1 636.7" stroke="#8a8a8a" stroke-width="0.9" fill="none" stroke-linejoin="round" stroke-linecap="round" />
<path d="M 1266.4 642.0 L 1281.1 636.7" stroke="#8a8a8a" stroke-width="0.9" fill="none" stroke-linejoin="round" stroke-linecap="round" />
<path d="M 1266.4 636.7 L 1281.1 642.0" stroke="#8a8a8a" stroke-width="0.9" fill="none" stroke-linejoin="round" stroke-linecap="round" />
<path d="M 1266.4 647.3 L 1281.1 642.0" stroke="#8a8a8a" stroke-width="0.9" fill="none" stroke-linejoin="round" stroke-linecap="round" />
<path d="M 1266.4 642.0 L 1281.1 647.3" stroke="#8a8a8a" stroke-width="0.9" fill="none" stroke-linejoin="round" stroke-linecap="round" />
<path d="M 1266.4 652.7 L 1281.1 647.3" stroke="#8a8a8a" stroke-width="0.9" fill="none" stroke-linejoin="round" stroke-linecap="round" />
<path d="M 1266.4 647.3 L 1281.1 652.7" stroke="#8a8a8a" stroke-width="0.9" fill="none" stroke-linejoin="round" stroke-linecap="round" />
<path d="M 1266.4 658.0 L 1281.1 652.7" stroke="#8a8a8a" stroke-width="0.9" fill="none" stroke-linejoin="round" stroke-linecap="round" />
<path d="M 1266.4 652.7 L 1281.1 658.0" stroke="#8a8a8a" stroke-width="0.9" fill="none" stroke-linejoin="round" stroke-linecap="round" />
<path d="M 1266.4 663.3 L 1281.1 658.0" stroke="#8a8a8a" stroke-width="0.9" fill="none" stroke-linejoin="round" stroke-linecap="round" />
<path d="M 1266.4 658.0 L 1281.1 663.3" stroke="#8a8a8a" stroke-width="0.9" fill="none" stroke-linejoin="round" stroke-linecap="round" />
<path d="M 1266.4 668.7 L 1281.1 663.3" stroke="#8a8a8a" stroke-width="0.9" fill="none" stroke-linejoin="round" stroke-linecap="round" />
<path d="M 1266.4 663.3 L 1281.1 668.7" stroke="#8a8a8a" stroke-width="0.9" fill="none" stroke-linejoin="round" stroke-linecap="round" />
<path d="M 1266.4 674.0 L 1281.1 668.7" stroke="#8a8a8a" stroke-width="0.9" fill="none" stroke-linejoin="round" stroke-linecap="round" />
<path d="M 1266.4 668.7 L 1281.1 674.0" stroke="#8a8a8a" stroke-width="0.9" fill="none" stroke-linejoin="round" stroke-linecap="round" />
<path d="M 1273.3 677.3 Q 1286.7 686.7 1290.7 709.3 M 1277.3 680.0 L 1285.3 713.3" stroke="#8a8a8a" stroke-width="0.9" fill="none" stroke-linejoin="round" stroke-linecap="round" />
<path d="M 1258.7 709.3 Q 1264.0 704.0 1273.3 702.7 Q 1276.3 705.3 1273.3 709.3 Q 1266.7 714.7 1260.0 714.7 Z " stroke="#444" stroke-width="1.3" fill="none" stroke-linejoin="round" stroke-linecap="round" />
<path d="M 1262.0 708.0 L 1272.0 705.3 M 1261.3 710.7 L 1271.3 708.0" stroke="#8a8a8a" stroke-width="0.9" fill="none" stroke-linejoin="round" stroke-linecap="round" />
<ellipse cx="1267.3" cy="694.9" rx="1.9" ry="2.1" transform="rotate(0.0 1267.3 694.9)" stroke="#8a8a8a" stroke-width="0.9" fill="none" stroke-linejoin="round" stroke-linecap="round"/>
<path d="M 1220.0 745.3 Q 1225.3 741.3 1230.7 744.0 L 1233.3 749.3 L 1225.3 752.0 Z " stroke="#444" stroke-width="1.3" fill="none" stroke-linejoin="round" stroke-linecap="round" />
<ellipse cx="1300.0" cy="752.4" rx="11.0" ry="7.6" transform="rotate(-18.0 1300.0 752.4)" stroke="#111" stroke-width="2.6" fill="none" stroke-linejoin="round" stroke-linecap="round"/>
<ellipse cx="1300.0" cy="752.4" rx="7.0" ry="4.4" transform="rotate(-18.0 1300.0 752.4)" stroke="#444" stroke-width="1.3" fill="none" stroke-linejoin="round" stroke-linecap="round"/>
<path d="M 1296.0 775.0 Q 1300.0 767.6 1309.0 768.4 Q 1317.6 772.0 1318.0 780.4 L 1313.0 788.0 L 1302.0 789.4 L 1296.0 782.4 Z " stroke="#111" stroke-width="2.6" fill="none" stroke-linejoin="round" stroke-linecap="round" />
<path d="M 1299.0 781.0 Q 1306.0 784.0 1315.0 780.0 M 1301.0 788.0 L 1301.0 782.0 M 1312.0 788.0 L 1313.0 781.0" stroke="#8a8a8a" stroke-width="0.9" fill="none" stroke-linejoin="round" stroke-linecap="round" />
<ellipse cx="1305.0" cy="771.0" rx="4.0" ry="2.4" transform="rotate(-10.0 1305.0 771.0)" stroke="#8a8a8a" stroke-width="0.9" fill="none" stroke-linejoin="round" stroke-linecap="round"/>
<ellipse cx="1315.0" cy="809.2" rx="6.0" ry="4.0" transform="rotate(-18.0 1315.0 809.2)" stroke="#111" stroke-width="2.6" fill="none" stroke-linejoin="round" stroke-linecap="round"/>
<ellipse cx="1315.0" cy="809.2" rx="2.8" ry="1.6" transform="rotate(-18.0 1315.0 809.2)" stroke="#8a8a8a" stroke-width="0.9" fill="none" stroke-linejoin="round" stroke-linecap="round"/>
<path d="M 1316.0 829.0 Q 1318.0 824.0 1323.0 827.0 L 1339.6 882.0 L 1341.0 889.0 Q 1339.0 894.0 1335.6 891.0 L 1333.6 884.4 L 1317.0 832.4 Z " stroke="#111" stroke-width="2.6" fill="none" stroke-linejoin="round" stroke-linecap="round" />
<path d="M 1330.0 880.0 L 1339.0 878.0 M 1332.0 885.0 L 1340.0 883.0" stroke="#8a8a8a" stroke-width="0.9" fill="none" stroke-linejoin="round" stroke-linecap="round" />
<path d="M 1337.0 899.0 Q 1338.0 895.6 1342.0 896.4 L 1347.0 908.0 Q 1346.0 911.6 1343.0 910.4 Z " stroke="#111" stroke-width="2.6" fill="none" stroke-linejoin="round" stroke-linecap="round" />
<path d="M 1338.0 899.0 L 1346.0 898.0" stroke="#8a8a8a" stroke-width="0.9" fill="none" stroke-linejoin="round" stroke-linecap="round" />
<path d="M 1338.0 901.4 L 1346.0 900.4" stroke="#8a8a8a" stroke-width="0.9" fill="none" stroke-linejoin="round" stroke-linecap="round" />
<path d="M 1338.0 903.8 L 1346.0 902.8" stroke="#8a8a8a" stroke-width="0.9" fill="none" stroke-linejoin="round" stroke-linecap="round" />
<path d="M 1338.0 906.2 L 1346.0 905.2" stroke="#8a8a8a" stroke-width="0.9" fill="none" stroke-linejoin="round" stroke-linecap="round" />
<path d="M 1338.0 908.6 L 1346.0 907.6" stroke="#8a8a8a" stroke-width="0.9" fill="none" stroke-linejoin="round" stroke-linecap="round" />
<path d="M 1342.0 934.0 Q 1343.0 927.0 1350.0 926.4 Q 1358.0 928.0 1360.0 936.0 L 1358.0 944.0 Q 1352.0 948.4 1346.0 946.0 L 1342.4 940.0 Z " stroke="#111" stroke-width="2.6" fill="none" stroke-linejoin="round" stroke-linecap="round" />
<ellipse cx="1350.0" cy="930.0" rx="7.0" ry="3.6" transform="rotate(-15.0 1350.0 930.0)" stroke="#8a8a8a" stroke-width="0.9" fill="none" stroke-linejoin="round" stroke-linecap="round"/>
<path d="M 1387.0 701.0 Q 1390.0 697.0 1398.0 699.0 Q 1403.0 701.6 1402.0 707.0 Q 1400.0 711.0 1394.0 710.0 L 1388.0 706.0 Z " stroke="#111" stroke-width="2.6" fill="none" stroke-linejoin="round" stroke-linecap="round" />
<path d="M 1389.0 699.0 L 1390.0 709.0" stroke="#8a8a8a" stroke-width="0.9" fill="none" stroke-linejoin="round" stroke-linecap="round" />
<path d="M 1392.0 699.0 L 1393.0 709.0" stroke="#8a8a8a" stroke-width="0.9" fill="none" stroke-linejoin="round" stroke-linecap="round" />
<path d="M 1395.0 699.0 L 1396.0 709.0" stroke="#8a8a8a" stroke-width="0.9" fill="none" stroke-linejoin="round" stroke-linecap="round" />
<path d="M 1398.0 699.0 L 1399.0 709.0" stroke="#8a8a8a" stroke-width="0.9" fill="none" stroke-linejoin="round" stroke-linecap="round" />
<path d="M 1255.6 759.6 Q 1255.0 756.0 1259.0 757.0 L 1282.0 769.6 Q 1285.0 773.0 1281.6 775.0 L 1258.0 762.0 Z " stroke="#111" stroke-width="2.6" fill="none" stroke-linejoin="round" stroke-linecap="round" />
<ellipse cx="1225.0" cy="785.2" rx="14.0" ry="8.4" transform="rotate(-10.0 1225.0 785.2)" stroke="#111" stroke-width="2.6" fill="none" stroke-linejoin="round" stroke-linecap="round"/>
<ellipse cx="1225.0" cy="785.2" rx="10.4" ry="5.6" transform="rotate(-10.0 1225.0 785.2)" stroke="#444" stroke-width="1.3" fill="none" stroke-linejoin="round" stroke-linecap="round"/>
<path d="M 1211.0 820.0 Q 1214.0 813.0 1225.0 813.6 Q 1237.0 815.0 1239.0 821.0 L 1239.0 850.0 Q 1245.0 856.0 1245.0 862.0 L 1243.0 870.0 Q 1234.0 874.0 1226.0 874.0 L 1222.0 878.0 L 1215.0 881.0 Q 1209.0 880.0 1207.0 876.0 L 1205.6 862.0 Q 1206.0 856.0 1211.0 852.0 Z " stroke="#111" stroke-width="2.6" fill="none" stroke-linejoin="round" stroke-linecap="round" />
<ellipse cx="1225.0" cy="819.0" rx="13.0" ry="5.0" transform="rotate(-5.0 1225.0 819.0)" stroke="#444" stroke-width="1.3" fill="none" stroke-linejoin="round" stroke-linecap="round"/>
<path d="M 1211.0 850.0 Q 1224.0 854.0 1239.0 850.0 M 1212.0 842.0 Q 1224.0 848.0 1239.0 842.0" stroke="#8a8a8a" stroke-width="0.9" fill="none" stroke-linejoin="round" stroke-linecap="round" />
<path d="M 1212.0 845.0 Q 1225.0 849.0 1239.0 845.0" stroke="#8a8a8a" stroke-width="0.9" fill="none" stroke-linejoin="round" stroke-linecap="round" />
<path d="M 1212.0 847.8 Q 1225.0 851.8 1239.0 847.8" stroke="#8a8a8a" stroke-width="0.9" fill="none" stroke-linejoin="round" stroke-linecap="round" />
<path d="M 1212.0 850.6 Q 1225.0 854.6 1239.0 850.6" stroke="#8a8a8a" stroke-width="0.9" fill="none" stroke-linejoin="round" stroke-linecap="round" />
<path d="M 1212.0 853.4 Q 1225.0 857.4 1239.0 853.4" stroke="#8a8a8a" stroke-width="0.9" fill="none" stroke-linejoin="round" stroke-linecap="round" />
<path d="M 1212.0 856.2 Q 1225.0 860.2 1239.0 856.2" stroke="#8a8a8a" stroke-width="0.9" fill="none" stroke-linejoin="round" stroke-linecap="round" />
<path d="M 1208.0 866.0 Q 1224.0 870.0 1244.0 864.0" stroke="#8a8a8a" stroke-width="0.9" fill="none" stroke-linejoin="round" stroke-linecap="round" />
<ellipse cx="1225.0" cy="820.0" rx="0.8" ry="0.8" transform="rotate(0.0 1225.0 820.0)" stroke="none" fill="#151515"/>
<path d="M 1175.6 847.0 Q 1176.4 844.0 1180.0 845.6 L 1185.6 849.6 Q 1185.6 853.6 1182.4 852.4 L 1176.4 849.0 Z " stroke="#111" stroke-width="2.6" fill="none" stroke-linejoin="round" stroke-linecap="round" />
<path d="M 1253.0 872.4 Q 1254.0 869.6 1257.0 870.4 L 1263.0 875.0 Q 1263.6 879.0 1260.0 878.4 L 1254.0 874.4 Z " stroke="#111" stroke-width="2.6" fill="none" stroke-linejoin="round" stroke-linecap="round" />
<ellipse cx="1285.6" cy="891.0" rx="2.8" ry="2.8" transform="rotate(0.0 1285.6 891.0)" stroke="#111" stroke-width="2.6" fill="none" stroke-linejoin="round" stroke-linecap="round"/>
<path d="M 1311.0 751.0 L 1330.0 738.4" stroke="#777" stroke-width="0.9" fill="none" stroke-linecap="round" />
<path d="M 1318.0 778.0 L 1339.0 766.4" stroke="#777" stroke-width="0.9" fill="none" stroke-linecap="round" />
<path d="M 1320.0 807.0 L 1345.0 793.0" stroke="#777" stroke-width="0.9" fill="none" stroke-linecap="round" />
<path d="M 1336.0 856.0 L 1358.0 842.4" stroke="#777" stroke-width="0.9" fill="none" stroke-linecap="round" />
<path d="M 1346.0 902.4 L 1372.0 888.4" stroke="#777" stroke-width="0.9" fill="none" stroke-linecap="round" />
<path d="M 1359.0 934.0 L 1384.0 918.4" stroke="#777" stroke-width="0.9" fill="none" stroke-linecap="round" />
<path d="M 1402.0 702.4 L 1424.0 687.0" stroke="#777" stroke-width="0.9" fill="none" stroke-linecap="round" />
<path d="M 1286.0 714.0 L 1307.0 719.0 L 1363.0 686.4 L 1388.0 699.6" stroke="#777" stroke-width="0.9" fill="none" stroke-linecap="round" />
<path d="M 1184.0 770.0 L 1210.0 784.4" stroke="#777" stroke-width="0.9" fill="none" stroke-linecap="round" />
<path d="M 1184.0 803.0 L 1210.0 818.4" stroke="#777" stroke-width="0.9" fill="none" stroke-linecap="round" />
<path d="M 1269.0 770.0 L 1269.0 791.0" stroke="#777" stroke-width="0.9" fill="none" stroke-linecap="round" />
<path d="M 1154.0 865.0 L 1176.0 852.0" stroke="#777" stroke-width="0.9" fill="none" stroke-linecap="round" />
<path d="M 1186.0 851.0 L 1190.0 854.0 L 1207.0 845.0 L 1218.0 848.0" stroke="#777" stroke-width="0.9" fill="none" stroke-linecap="round" />
<path d="M 1233.0 892.0 L 1255.0 879.6" stroke="#777" stroke-width="0.9" fill="none" stroke-linecap="round" />
<path d="M 1261.0 907.0 L 1284.0 893.6" stroke="#777" stroke-width="0.9" fill="none" stroke-linecap="round" />
<path d="M 1225.0 754.0 L 1225.0 776.4" stroke="#777" stroke-width="0.9" fill="none" stroke-linecap="round" />
<path d="M 1225.0 794.0 L 1225.0 813.6" stroke="#777" stroke-width="0.9" fill="none" stroke-linecap="round" />
<path d="M 1242.0 751.0 L 1256.4 759.0" stroke="#777" stroke-width="0.9" fill="none" stroke-linecap="round" />
<path d="M 1288.0 704.0 L 1300.0 745.6" stroke="#777" stroke-width="0.9" fill="none" stroke-linecap="round" />
<path d="M 1308.0 790.0 L 1314.0 804.4" stroke="#777" stroke-width="0.9" fill="none" stroke-linecap="round" />
<path d="M 1317.0 813.6 L 1319.0 826.0" stroke="#777" stroke-width="0.9" fill="none" stroke-linecap="round" />
<path d="M 1341.0 892.4 L 1342.0 898.0" stroke="#777" stroke-width="0.9" fill="none" stroke-linecap="round" />
<path d="M 1344.4 911.0 L 1348.0 926.4" stroke="#777" stroke-width="0.9" fill="none" stroke-linecap="round" />
<path d="M 1244.0 864.0 L 1254.4 871.6" stroke="#777" stroke-width="0.9" fill="none" stroke-linecap="round" />
<path d="M 1262.4 878.0 L 1284.0 890.0" stroke="#777" stroke-width="0.9" fill="none" stroke-linecap="round" />
<path d="M 1390.0 481.3 L 1402.5 485.0 Q 1404.3 486.7 1404.3 490.0 L 1404.3 570.8 Q 1403.3 572.7 1400.8 571.8 L 1390.8 569.2 Q 1388.3 568.3 1388.3 565.8 L 1388.3 558.3 L 1392.7 560.0 L 1392.7 497.5 L 1388.3 495.3 L 1388.3 486.3 Q 1388.7 481.0 1390.0 481.3 Z " stroke="#111" stroke-width="2.6" fill="none" stroke-linejoin="round" stroke-linecap="round" />
<path d="M 1392.7 497.5 L 1402.5 493.3 M 1392.7 560.0 L 1402.5 558.3 M 1395.0 499.2 L 1396.7 560.0" stroke="#8a8a8a" stroke-width="0.9" fill="none" stroke-linejoin="round" stroke-linecap="round" />
<path d="M 1390.8 492.5 L 1402.0 489.2" stroke="#8a8a8a" stroke-width="0.9" fill="none" stroke-linejoin="round" stroke-linecap="round" />
<path d="M 1398.3 590.3 Q 1397.3 587.0 1400.8 587.5 L 1417.5 597.5 Q 1420.3 600.8 1416.7 602.0 L 1399.2 592.0 Z " stroke="#111" stroke-width="2.6" fill="none" stroke-linejoin="round" stroke-linecap="round" />
<path d="M 1392.5 606.2 Q 1391.5 602.8 1395.0 603.3 L 1411.7 613.3 Q 1414.5 616.7 1410.8 617.8 L 1393.3 607.8 Z " stroke="#111" stroke-width="2.6" fill="none" stroke-linejoin="round" stroke-linecap="round" />
<path d="M 1365.0 493.3 L 1388.3 505.3" stroke="#777" stroke-width="0.9" fill="none" stroke-linecap="round" />
<path d="M 1335.8 544.2 L 1359.2 557.0" stroke="#777" stroke-width="0.9" fill="none" stroke-linecap="round" />
<path d="M 1410.0 591.3 L 1435.0 575.3" stroke="#777" stroke-width="0.9" fill="none" stroke-linecap="round" />
<path d="M 1375.8 626.7 L 1400.8 613.7" stroke="#777" stroke-width="0.9" fill="none" stroke-linecap="round" />
<path d="M 1383.3 582.5 L 1396.7 588.7" stroke="#777" stroke-width="0.9" fill="none" stroke-linecap="round" />
<path d="M 1376.7 595.3 L 1392.5 603.7" stroke="#777" stroke-width="0.9" fill="none" stroke-linecap="round" />
<path d="M 1341.3 565.3 Q 1342.0 563.0 1345.8 563.7 L 1357.5 567.5 Q 1360.0 560.0 1366.7 554.7 Q 1373.3 551.3 1378.3 553.3 Q 1380.8 555.8 1380.8 560.0 L 1380.3 575.0 Q 1381.7 578.7 1385.0 578.0 Q 1388.0 579.2 1387.5 583.0 L 1383.3 591.7 Q 1378.3 598.3 1370.0 599.2 Q 1365.0 599.2 1360.0 595.8 L 1354.2 591.7 Q 1351.7 588.3 1352.0 583.3 L 1352.0 571.7 L 1345.8 569.2 Q 1342.0 568.0 1341.3 565.3 Z " stroke="#111" stroke-width="2.6" fill="none" stroke-linejoin="round" stroke-linecap="round" />
<path d="M 1357.5 567.5 Q 1363.3 571.7 1363.3 580.0 L 1364.2 596.7 M 1352.0 571.7 Q 1356.7 570.0 1360.0 573.3" stroke="#8a8a8a" stroke-width="0.9" fill="none" stroke-linejoin="round" stroke-linecap="round" />
<ellipse cx="1373.0" cy="592.0" rx="1.3" ry="1.7" transform="rotate(0.0 1373.0 592.0)" stroke="#8a8a8a" stroke-width="0.9" fill="none" stroke-linejoin="round" stroke-linecap="round"/>
<ellipse cx="1357.5" cy="960.8" rx="5.3" ry="2.3" transform="rotate(-12.0 1357.5 960.8)" stroke="#111" stroke-width="2.6" fill="none" stroke-linejoin="round" stroke-linecap="round"/>
<ellipse cx="1359.2" cy="966.7" rx="6.7" ry="3.0" transform="rotate(-12.0 1359.2 966.7)" stroke="#111" stroke-width="2.6" fill="none" stroke-linejoin="round" stroke-linecap="round"/>
<ellipse cx="1360.8" cy="973.3" rx="8.0" ry="3.7" transform="rotate(-12.0 1360.8 973.3)" stroke="#111" stroke-width="2.6" fill="none" stroke-linejoin="round" stroke-linecap="round"/>
<ellipse cx="1362.5" cy="980.0" rx="9.2" ry="4.2" transform="rotate(-12.0 1362.5 980.0)" stroke="#111" stroke-width="2.6" fill="none" stroke-linejoin="round" stroke-linecap="round"/>
<ellipse cx="1364.2" cy="986.7" rx="10.3" ry="4.7" transform="rotate(-12.0 1364.2 986.7)" stroke="#111" stroke-width="2.6" fill="none" stroke-linejoin="round" stroke-linecap="round"/>
<ellipse cx="1365.3" cy="992.5" rx="11.0" ry="5.0" transform="rotate(-12.0 1365.3 992.5)" stroke="#111" stroke-width="2.6" fill="none" stroke-linejoin="round" stroke-linecap="round"/>
<path d="M 1352.2 961.7 L 1354.3 993.3 M 1362.8 960.0 L 1376.3 991.7" stroke="#8a8a8a" stroke-width="0.9" fill="none" stroke-linejoin="round" stroke-linecap="round" />
<ellipse cx="1372.8" cy="1015.0" rx="16.2" ry="10.3" transform="rotate(-12.0 1372.8 1015.0)" stroke="#111" stroke-width="2.6" fill="none" stroke-linejoin="round" stroke-linecap="round"/>
<ellipse cx="1372.8" cy="1015.0" rx="11.3" ry="6.7" transform="rotate(-12.0 1372.8 1015.0)" stroke="#111" stroke-width="2.6" fill="none" stroke-linejoin="round" stroke-linecap="round"/>
<ellipse cx="1382.5" cy="1050.8" rx="15.8" ry="10.8" transform="rotate(-12.0 1382.5 1050.8)" stroke="#111" stroke-width="2.6" fill="none" stroke-linejoin="round" stroke-linecap="round"/>
<path d="M 1366.7 1051.7 L 1366.7 1063.3 M 1398.7 1047.5 L 1400.3 1056.7" stroke="#111" stroke-width="2.6" fill="none" stroke-linejoin="round" stroke-linecap="round" />
<path d="M 1365.8 1064.2 L 1370.8 1088.3 Q 1380.0 1098.7 1393.3 1097.0 Q 1408.7 1093.7 1410.3 1080.0 L 1408.7 1061.7 L 1404.2 1054.2" stroke="#111" stroke-width="2.6" fill="none" stroke-linejoin="round" stroke-linecap="round" />
<path d="M 1368.3 1061.7 Q 1383.3 1066.7 1402.5 1058.3" stroke="#8a8a8a" stroke-width="0.9" fill="none" stroke-linejoin="round" stroke-linecap="round" />
<path d="M 1368.3 1064.3 Q 1383.3 1069.3 1402.5 1061.0" stroke="#8a8a8a" stroke-width="0.9" fill="none" stroke-linejoin="round" stroke-linecap="round" />
<path d="M 1368.3 1067.0 Q 1383.3 1072.0 1402.5 1063.7" stroke="#8a8a8a" stroke-width="0.9" fill="none" stroke-linejoin="round" stroke-linecap="round" />
<path d="M 1368.3 1069.7 Q 1383.3 1074.7 1402.5 1066.3" stroke="#8a8a8a" stroke-width="0.9" fill="none" stroke-linejoin="round" stroke-linecap="round" />
<path d="M 1368.3 1072.3 Q 1383.3 1077.3 1402.5 1069.0" stroke="#8a8a8a" stroke-width="0.9" fill="none" stroke-linejoin="round" stroke-linecap="round" />
<path d="M 1368.3 1075.0 Q 1383.3 1080.0 1402.5 1071.7" stroke="#8a8a8a" stroke-width="0.9" fill="none" stroke-linejoin="round" stroke-linecap="round" />
<path d="M 1370.8 1074.2 L 1390.0 1080.8 L 1408.7 1071.7 M 1390.0 1080.8 L 1390.8 1089.2" stroke="#8a8a8a" stroke-width="0.9" fill="none" stroke-linejoin="round" stroke-linecap="round" />
<path d="M 1372.5 975.3 L 1393.3 962.8" stroke="#777" stroke-width="0.9" fill="none" stroke-linecap="round" />
<path d="M 1390.0 1012.0 L 1404.2 1003.7" stroke="#777" stroke-width="0.9" fill="none" stroke-linecap="round" />
<path d="M 1408.3 1068.7 L 1421.7 1062.0" stroke="#777" stroke-width="0.9" fill="none" stroke-linecap="round" />
<path d="M 1354.2 948.3 L 1357.5 958.0" stroke="#777" stroke-width="0.9" fill="none" stroke-linecap="round" />
<path d="M 1367.5 997.0 L 1370.8 1004.7" stroke="#777" stroke-width="0.9" fill="none" stroke-linecap="round" />
<path d="M 1375.8 1027.5 L 1380.8 1049.7" stroke="#777" stroke-width="0.9" fill="none" stroke-linecap="round" />
<ellipse cx="1082.9" cy="739.7" rx="53.3" ry="80.0" transform="rotate(-28.0 1082.9 739.7)" stroke="#111" stroke-width="2.6" fill="none" stroke-linejoin="round" stroke-linecap="round"/>
<ellipse cx="1084.0" cy="740.3" rx="48.3" ry="74.7" transform="rotate(-28.0 1084.0 740.3)" stroke="#8a8a8a" stroke-width="0.9" fill="none" stroke-linejoin="round" stroke-linecap="round"/>
<ellipse cx="1085.1" cy="740.8" rx="44.7" ry="70.7" transform="rotate(-28.0 1085.1 740.8)" stroke="#8a8a8a" stroke-width="0.9" fill="none" stroke-linejoin="round" stroke-linecap="round"/>
<ellipse cx="1086.0" cy="741.3" rx="41.3" ry="67.3" transform="rotate(-28.0 1086.0 741.3)" stroke="#444" stroke-width="1.3" fill="none" stroke-linejoin="round" stroke-linecap="round"/>
<path d="M 1021.3 658.7 L 1041.3 670.9" stroke="#777" stroke-width="0.9" fill="none" stroke-linecap="round" />
<path d="M 1024.0 773.3 L 1078.0 742.9" stroke="#777" stroke-width="0.9" fill="none" stroke-linecap="round" />
<path d="M 1129.3 713.3 L 1152.3 700.7" stroke="#777" stroke-width="0.9" fill="none" stroke-linecap="round" />
<ellipse cx="507.9" cy="1071.9" rx="37.3" ry="54.4" transform="rotate(-28.0 507.9 1071.9)" stroke="#111" stroke-width="2.6" fill="none" stroke-linejoin="round" stroke-linecap="round"/>
<ellipse cx="491.9" cy="1082.3" rx="24.3" ry="35.5" transform="rotate(-28.0 491.9 1082.3)" stroke="#444" stroke-width="1.3" fill="none" stroke-linejoin="round" stroke-linecap="round"/>
<ellipse cx="493.7" cy="1081.4" rx="21.1" ry="32.1" transform="rotate(-28.0 493.7 1081.4)" stroke="#8a8a8a" stroke-width="0.9" fill="none" stroke-linejoin="round" stroke-linecap="round"/>
<ellipse cx="495.7" cy="1080.2" rx="18.7" ry="29.1" transform="rotate(-28.0 495.7 1080.2)" stroke="#8a8a8a" stroke-width="0.9" fill="none" stroke-linejoin="round" stroke-linecap="round"/>
<ellipse cx="504.4" cy="1074.5" rx="10.4" ry="16.5" transform="rotate(-28.0 504.4 1074.5)" stroke="#8a8a8a" stroke-width="0.9" fill="none" stroke-linejoin="round" stroke-linecap="round"/>
<ellipse cx="506.5" cy="1073.3" rx="7.8" ry="13.5" transform="rotate(-28.0 506.5 1073.3)" stroke="#8a8a8a" stroke-width="0.9" fill="none" stroke-linejoin="round" stroke-linecap="round"/>
<path d="M 472.3 1056.3 Q 487.1 1042.4 502.7 1047.6 Q 521.7 1056.3 525.2 1077.1" stroke="#8a8a8a" stroke-width="0.9" fill="none" stroke-linejoin="round" stroke-linecap="round" />
<path d="M 427.3 1081.4 Q 440.3 1075.3 452.4 1081.4 Q 466.3 1090.9 470.1 1110.0 Q 471.5 1127.3 462.8 1135.1 Q 455.9 1140.3 447.2 1139.8" stroke="#111" stroke-width="2.6" fill="none" stroke-linejoin="round" stroke-linecap="round" />
<ellipse cx="436.5" cy="1112.1" rx="19.4" ry="29.5" transform="rotate(-28.0 436.5 1112.1)" stroke="#111" stroke-width="2.6" fill="none" stroke-linejoin="round" stroke-linecap="round"/>
<ellipse cx="437.7" cy="1111.4" rx="16.5" ry="26.0" transform="rotate(-28.0 437.7 1111.4)" stroke="#8a8a8a" stroke-width="0.9" fill="none" stroke-linejoin="round" stroke-linecap="round"/>
<ellipse cx="438.5" cy="1110.4" rx="10.7" ry="18.2" transform="rotate(-28.0 438.5 1110.4)" stroke="#444" stroke-width="1.3" fill="none" stroke-linejoin="round" stroke-linecap="round"/>
<ellipse cx="440.3" cy="1109.1" rx="8.3" ry="14.7" transform="rotate(-28.0 440.3 1109.1)" stroke="#8a8a8a" stroke-width="0.9" fill="none" stroke-linejoin="round" stroke-linecap="round"/>
<path d="M 537.3 1118.7 L 559.0 1131.2" stroke="#777" stroke-width="0.9" fill="none" stroke-linecap="round" />
<path d="M 461.1 1136.9 L 504.4 1162.4" stroke="#777" stroke-width="0.9" fill="none" stroke-linecap="round" />
<path d="M 390.0 1140.3 L 435.9 1113.5" stroke="#777" stroke-width="0.9" fill="none" stroke-linecap="round" />
<path d="M 466.3 1097.9 L 492.3 1083.1" stroke="#777" stroke-width="0.9" fill="none" stroke-linecap="round" />
</svg>
<div class="bar"></div>
<div class="logo"></div><span class="lg">KRAFTOOL</span>
<div class="c1">64200.</div><div class="c2">Схема 1-1 (Схема-состав. Пневмогайковерт ударный)</div>
</div></body></html>
